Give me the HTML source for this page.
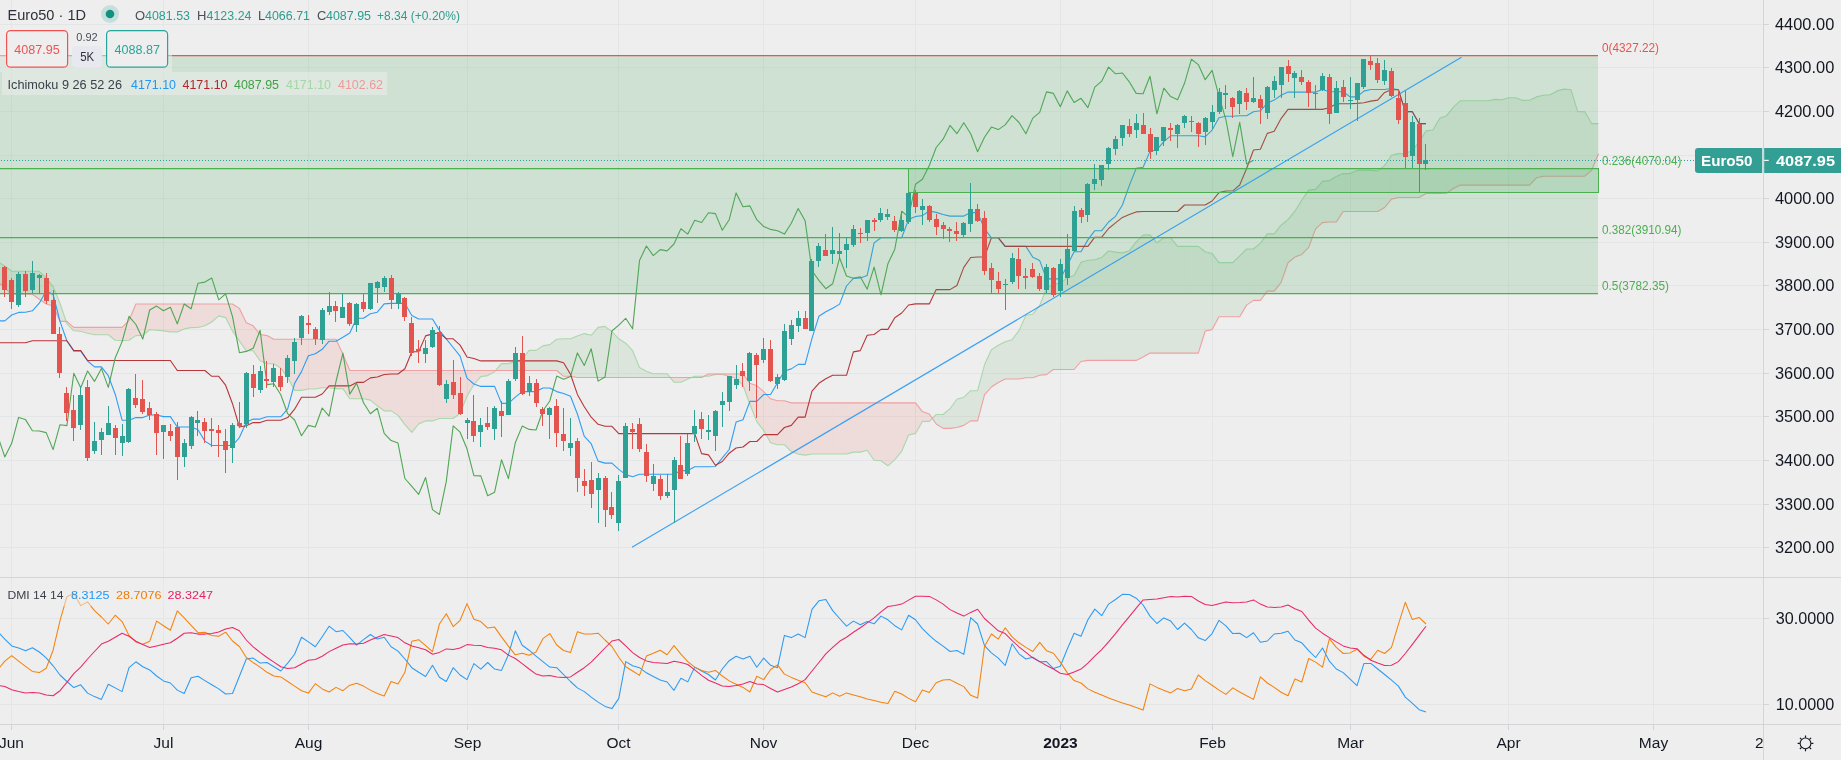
<!DOCTYPE html><html><head><meta charset="utf-8"><title>Euro50</title><style>html,body{margin:0;padding:0;background:#eeeeee;overflow:hidden}</style></head><body><svg width="1841" height="760" viewBox="0 0 1841 760" style="will-change:transform;display:block;font-family:'Liberation Sans',sans-serif">
<rect width="1841" height="760" fill="#eeeeee"/>
<path d="M11.5,0V724.5 M163.5,0V724.5 M308.5,0V724.5 M467.5,0V724.5 M618.5,0V724.5 M763.5,0V724.5 M915.5,0V724.5 M1060.5,0V724.5 M1212.5,0V724.5 M1350.5,0V724.5 M1508.5,0V724.5 M1653.5,0V724.5 M0,547.5H1763.5 M0,504.5H1763.5 M0,460.5H1763.5 M0,416.5H1763.5 M0,373.5H1763.5 M0,329.5H1763.5 M0,285.5H1763.5 M0,242.5H1763.5 M0,198.5H1763.5 M0,155.5H1763.5 M0,111.5H1763.5 M0,67.5H1763.5 M0,24.5H1763.5 M0,704.5H1763.5 M0,618.5H1763.5" stroke="#e4e5e6" stroke-width="1" fill="none" shape-rendering="crispEdges"/>
<clipPath id="mp"><rect x="0" y="0" width="1763.5" height="577.5"/></clipPath>
<clipPath id="dp"><rect x="0" y="577.5" width="1763.5" height="147.0"/></clipPath>
<g clip-path="url(#mp)">
<polygon points="-2.1,262.0 4.8,266.0 4.8,288.0 -2.1,282.0" fill="#43a047" fill-opacity="0.1"/>
<polygon points="4.8,266.0 11.7,271.3 11.7,294.2 4.8,288.0" fill="#43a047" fill-opacity="0.1"/>
<polygon points="11.7,271.3 18.6,271.3 18.6,294.2 11.7,294.2" fill="#43a047" fill-opacity="0.1"/>
<polygon points="18.6,271.3 25.5,271.3 25.5,294.2 18.6,294.2" fill="#43a047" fill-opacity="0.1"/>
<polygon points="25.5,271.3 32.4,271.3 32.4,294.2 25.5,294.2" fill="#43a047" fill-opacity="0.1"/>
<polygon points="32.4,271.3 39.3,271.3 39.3,299.2 32.4,294.2" fill="#43a047" fill-opacity="0.1"/>
<polygon points="39.3,271.3 46.2,277.9 46.2,304.0 39.3,299.2" fill="#43a047" fill-opacity="0.1"/>
<polygon points="46.2,277.9 53.1,286.6 53.1,306.0 46.2,304.0" fill="#43a047" fill-opacity="0.1"/>
<polygon points="53.1,286.6 60.0,303.2 60.0,321.4 53.1,306.0" fill="#43a047" fill-opacity="0.1"/>
<polygon points="60.0,303.2 66.1,321.4 60.0,321.4" fill="#43a047" fill-opacity="0.1"/>
<polygon points="66.1,321.4 66.9,323.7 66.9,321.4" fill="#f44336" fill-opacity="0.1"/>
<polygon points="66.9,323.7 73.8,330.8 73.8,327.4 66.9,321.4" fill="#f44336" fill-opacity="0.1"/>
<polygon points="73.8,330.8 80.7,331.2 80.7,327.4 73.8,327.4" fill="#f44336" fill-opacity="0.1"/>
<polygon points="80.7,331.2 87.6,333.2 87.6,327.4 80.7,327.4" fill="#f44336" fill-opacity="0.1"/>
<polygon points="87.6,333.2 94.5,334.8 94.5,327.4 87.6,327.4" fill="#f44336" fill-opacity="0.1"/>
<polygon points="94.5,334.8 101.4,334.8 101.4,327.4 94.5,327.4" fill="#f44336" fill-opacity="0.1"/>
<polygon points="101.4,334.8 108.3,334.8 108.3,327.4 101.4,327.4" fill="#f44336" fill-opacity="0.1"/>
<polygon points="108.3,334.8 115.2,340.3 115.2,327.4 108.3,327.4" fill="#f44336" fill-opacity="0.1"/>
<polygon points="115.2,340.3 122.1,340.6 122.1,327.4 115.2,327.4" fill="#f44336" fill-opacity="0.1"/>
<polygon points="122.1,340.6 129.0,340.3 129.0,320.6 122.1,327.4" fill="#f44336" fill-opacity="0.1"/>
<polygon points="129.0,340.3 135.9,335.6 135.9,304.0 129.0,320.6" fill="#f44336" fill-opacity="0.1"/>
<polygon points="135.9,335.6 142.8,335.3 142.8,304.0 135.9,304.0" fill="#f44336" fill-opacity="0.1"/>
<polygon points="142.8,335.3 149.7,329.8 149.7,304.0 142.8,304.0" fill="#f44336" fill-opacity="0.1"/>
<polygon points="149.7,329.8 156.6,330.2 156.6,304.0 149.7,304.0" fill="#f44336" fill-opacity="0.1"/>
<polygon points="156.6,330.2 163.5,330.9 163.5,304.0 156.6,304.0" fill="#f44336" fill-opacity="0.1"/>
<polygon points="163.5,330.9 170.4,331.9 170.4,304.0 163.5,304.0" fill="#f44336" fill-opacity="0.1"/>
<polygon points="170.4,331.9 177.3,331.9 177.3,304.0 170.4,304.0" fill="#f44336" fill-opacity="0.1"/>
<polygon points="177.3,331.9 184.2,328.9 184.2,304.0 177.3,304.0" fill="#f44336" fill-opacity="0.1"/>
<polygon points="184.2,328.9 191.1,327.6 191.1,304.0 184.2,304.0" fill="#f44336" fill-opacity="0.1"/>
<polygon points="191.1,327.6 198.0,327.5 198.0,304.0 191.1,304.0" fill="#f44336" fill-opacity="0.1"/>
<polygon points="198.0,327.5 204.9,325.8 204.9,304.0 198.0,304.0" fill="#f44336" fill-opacity="0.1"/>
<polygon points="204.9,325.8 211.8,322.0 211.8,304.0 204.9,304.0" fill="#f44336" fill-opacity="0.1"/>
<polygon points="211.8,322.0 218.7,315.9 218.7,304.0 211.8,304.0" fill="#f44336" fill-opacity="0.1"/>
<polygon points="218.7,315.9 225.6,317.6 225.6,304.0 218.7,304.0" fill="#f44336" fill-opacity="0.1"/>
<polygon points="225.6,317.6 232.5,331.1 232.5,304.0 225.6,304.0" fill="#f44336" fill-opacity="0.1"/>
<polygon points="232.5,331.1 239.4,340.9 239.4,308.4 232.5,304.0" fill="#f44336" fill-opacity="0.1"/>
<polygon points="239.4,340.9 246.3,350.8 246.3,322.7 239.4,308.4" fill="#f44336" fill-opacity="0.1"/>
<polygon points="246.3,350.8 253.2,350.8 253.2,325.8 246.3,322.7" fill="#f44336" fill-opacity="0.1"/>
<polygon points="253.2,350.8 260.1,360.8 260.1,334.5 253.2,325.8" fill="#f44336" fill-opacity="0.1"/>
<polygon points="260.1,360.8 267.0,363.7 267.0,335.6 260.1,334.5" fill="#f44336" fill-opacity="0.1"/>
<polygon points="267.0,363.7 273.9,363.7 273.9,339.2 267.0,335.6" fill="#f44336" fill-opacity="0.1"/>
<polygon points="273.9,363.7 280.8,368.1 280.8,339.2 273.9,339.2" fill="#f44336" fill-opacity="0.1"/>
<polygon points="280.8,368.1 287.7,377.3 287.7,339.2 280.8,339.2" fill="#f44336" fill-opacity="0.1"/>
<polygon points="287.7,377.3 294.6,390.4 294.6,339.2 287.7,339.2" fill="#f44336" fill-opacity="0.1"/>
<polygon points="294.6,390.4 301.5,390.4 301.5,339.2 294.6,339.2" fill="#f44336" fill-opacity="0.1"/>
<polygon points="301.5,390.4 308.4,389.0 308.4,339.2 301.5,339.2" fill="#f44336" fill-opacity="0.1"/>
<polygon points="308.4,389.0 315.3,389.0 315.3,339.2 308.4,339.2" fill="#f44336" fill-opacity="0.1"/>
<polygon points="315.3,389.0 322.2,387.8 322.2,339.2 315.3,339.2" fill="#f44336" fill-opacity="0.1"/>
<polygon points="322.2,387.8 329.1,387.8 329.1,339.2 322.2,339.2" fill="#f44336" fill-opacity="0.1"/>
<polygon points="329.1,387.8 336.0,388.6 336.0,339.2 329.1,339.2" fill="#f44336" fill-opacity="0.1"/>
<polygon points="336.0,388.6 342.9,388.6 342.9,354.3 336.0,339.2" fill="#f44336" fill-opacity="0.1"/>
<polygon points="342.9,388.6 349.8,398.8 349.8,370.5 342.9,354.3" fill="#f44336" fill-opacity="0.1"/>
<polygon points="349.8,398.8 356.6,398.8 356.6,370.5 349.8,370.5" fill="#f44336" fill-opacity="0.1"/>
<polygon points="356.6,398.8 363.5,398.8 363.5,370.5 356.6,370.5" fill="#f44336" fill-opacity="0.1"/>
<polygon points="363.5,398.8 370.4,400.1 370.4,370.5 363.5,370.5" fill="#f44336" fill-opacity="0.1"/>
<polygon points="370.4,400.1 377.3,405.8 377.3,370.5 370.4,370.5" fill="#f44336" fill-opacity="0.1"/>
<polygon points="377.3,405.8 384.2,410.9 384.2,370.5 377.3,370.5" fill="#f44336" fill-opacity="0.1"/>
<polygon points="384.2,410.9 391.1,410.9 391.1,370.5 384.2,370.5" fill="#f44336" fill-opacity="0.1"/>
<polygon points="391.1,410.9 398.0,415.4 398.0,370.5 391.1,370.5" fill="#f44336" fill-opacity="0.1"/>
<polygon points="398.0,415.4 404.9,424.6 404.9,370.5 398.0,370.5" fill="#f44336" fill-opacity="0.1"/>
<polygon points="404.9,424.6 411.8,432.3 411.8,370.5 404.9,370.5" fill="#f44336" fill-opacity="0.1"/>
<polygon points="411.8,432.3 418.7,424.0 418.7,370.5 411.8,370.5" fill="#f44336" fill-opacity="0.1"/>
<polygon points="418.7,424.0 425.6,420.9 425.6,370.5 418.7,370.5" fill="#f44336" fill-opacity="0.1"/>
<polygon points="425.6,420.9 432.5,420.9 432.5,370.5 425.6,370.5" fill="#f44336" fill-opacity="0.1"/>
<polygon points="432.5,420.9 439.4,418.5 439.4,370.5 432.5,370.5" fill="#f44336" fill-opacity="0.1"/>
<polygon points="439.4,418.5 446.3,418.5 446.3,370.5 439.4,370.5" fill="#f44336" fill-opacity="0.1"/>
<polygon points="446.3,418.5 453.2,418.5 453.2,370.5 446.3,370.5" fill="#f44336" fill-opacity="0.1"/>
<polygon points="453.2,418.5 460.1,413.2 460.1,370.5 453.2,370.5" fill="#f44336" fill-opacity="0.1"/>
<polygon points="460.1,413.2 467.0,396.3 467.0,370.5 460.1,370.5" fill="#f44336" fill-opacity="0.1"/>
<polygon points="467.0,396.3 473.9,384.5 473.9,370.5 467.0,370.5" fill="#f44336" fill-opacity="0.1"/>
<polygon points="473.9,384.5 480.8,376.6 480.8,370.5 473.9,370.5" fill="#f44336" fill-opacity="0.1"/>
<polygon points="480.8,376.6 487.7,375.6 487.7,370.5 480.8,370.5" fill="#f44336" fill-opacity="0.1"/>
<polygon points="487.7,375.6 494.6,371.7 494.6,370.5 487.7,370.5" fill="#f44336" fill-opacity="0.1"/>
<polygon points="494.6,371.7 495.6,370.5 494.6,370.5" fill="#f44336" fill-opacity="0.1"/>
<polygon points="495.6,370.5 501.5,363.6 501.5,370.5" fill="#43a047" fill-opacity="0.1"/>
<polygon points="501.5,363.6 508.4,363.6 508.4,370.5 501.5,370.5" fill="#43a047" fill-opacity="0.1"/>
<polygon points="508.4,363.6 515.3,361.6 515.3,370.5 508.4,370.5" fill="#43a047" fill-opacity="0.1"/>
<polygon points="515.3,361.6 522.2,359.5 522.2,370.5 515.3,370.5" fill="#43a047" fill-opacity="0.1"/>
<polygon points="522.2,359.5 529.1,350.4 529.1,370.5 522.2,370.5" fill="#43a047" fill-opacity="0.1"/>
<polygon points="529.1,350.4 536.0,350.4 536.0,370.5 529.1,370.5" fill="#43a047" fill-opacity="0.1"/>
<polygon points="536.0,350.4 542.9,345.9 542.9,370.5 536.0,370.5" fill="#43a047" fill-opacity="0.1"/>
<polygon points="542.9,345.9 549.8,344.6 549.8,370.5 542.9,370.5" fill="#43a047" fill-opacity="0.1"/>
<polygon points="549.8,344.6 556.7,339.2 556.7,370.5 549.8,370.5" fill="#43a047" fill-opacity="0.1"/>
<polygon points="556.7,339.2 563.6,338.7 563.6,376.3 556.7,370.5" fill="#43a047" fill-opacity="0.1"/>
<polygon points="563.6,338.7 570.5,338.7 570.5,376.3 563.6,376.3" fill="#43a047" fill-opacity="0.1"/>
<polygon points="570.5,338.7 577.4,336.1 577.4,377.5 570.5,376.3" fill="#43a047" fill-opacity="0.1"/>
<polygon points="577.4,336.1 584.3,333.6 584.3,377.5 577.4,377.5" fill="#43a047" fill-opacity="0.1"/>
<polygon points="584.3,333.6 591.2,335.3 591.2,377.5 584.3,377.5" fill="#43a047" fill-opacity="0.1"/>
<polygon points="591.2,335.3 598.1,327.4 598.1,377.5 591.2,377.5" fill="#43a047" fill-opacity="0.1"/>
<polygon points="598.1,327.4 605.0,326.4 605.0,377.5 598.1,377.5" fill="#43a047" fill-opacity="0.1"/>
<polygon points="605.0,326.4 611.9,331.6 611.9,377.5 605.0,377.5" fill="#43a047" fill-opacity="0.1"/>
<polygon points="611.9,331.6 618.8,338.8 618.8,377.5 611.9,377.5" fill="#43a047" fill-opacity="0.1"/>
<polygon points="618.8,338.8 625.7,343.2 625.7,377.5 618.8,377.5" fill="#43a047" fill-opacity="0.1"/>
<polygon points="625.7,343.2 632.6,350.7 632.6,377.5 625.7,377.5" fill="#43a047" fill-opacity="0.1"/>
<polygon points="632.6,350.7 639.5,367.5 639.5,377.5 632.6,377.5" fill="#43a047" fill-opacity="0.1"/>
<polygon points="639.5,367.5 646.4,371.3 646.4,377.5 639.5,377.5" fill="#43a047" fill-opacity="0.1"/>
<polygon points="646.4,371.3 653.3,373.7 653.3,377.5 646.4,377.5" fill="#43a047" fill-opacity="0.1"/>
<polygon points="653.3,373.7 660.2,373.7 660.2,377.5 653.3,377.5" fill="#43a047" fill-opacity="0.1"/>
<polygon points="660.2,373.7 667.1,373.7 667.1,377.5 660.2,377.5" fill="#43a047" fill-opacity="0.1"/>
<polygon points="667.1,373.7 670.2,377.5 667.1,377.5" fill="#43a047" fill-opacity="0.1"/>
<polygon points="670.2,377.5 674.0,382.2 674.0,377.5" fill="#f44336" fill-opacity="0.1"/>
<polygon points="674.0,382.2 680.9,382.2 680.9,377.5 674.0,377.5" fill="#f44336" fill-opacity="0.1"/>
<polygon points="680.9,382.2 687.8,379.0 687.8,377.5 680.9,377.5" fill="#f44336" fill-opacity="0.1"/>
<polygon points="687.8,379.0 691.7,377.5 687.8,377.5" fill="#f44336" fill-opacity="0.1"/>
<polygon points="691.7,377.5 694.7,376.3 694.7,377.5" fill="#43a047" fill-opacity="0.1"/>
<polygon points="694.7,376.3 701.6,376.3 701.6,377.5 694.7,377.5" fill="#43a047" fill-opacity="0.1"/>
<polygon points="701.6,376.3 704.0,376.3 701.6,377.5" fill="#43a047" fill-opacity="0.1"/>
<polygon points="704.0,376.3 708.5,376.3 708.5,374.0" fill="#f44336" fill-opacity="0.1"/>
<polygon points="708.5,376.3 715.4,374.4 715.4,374.0 708.5,374.0" fill="#f44336" fill-opacity="0.1"/>
<polygon points="715.4,374.4 722.3,374.4 722.3,374.0 715.4,374.0" fill="#f44336" fill-opacity="0.1"/>
<polygon points="722.3,374.4 729.2,376.3 729.2,374.0 722.3,374.0" fill="#f44336" fill-opacity="0.1"/>
<polygon points="729.2,376.3 736.1,378.2 736.1,374.0 729.2,374.0" fill="#f44336" fill-opacity="0.1"/>
<polygon points="736.1,378.2 743.0,385.3 743.0,374.0 736.1,374.0" fill="#f44336" fill-opacity="0.1"/>
<polygon points="743.0,385.3 749.9,404.2 749.9,383.3 743.0,374.0" fill="#f44336" fill-opacity="0.1"/>
<polygon points="749.9,404.2 756.8,421.6 756.8,385.7 749.9,383.3" fill="#f44336" fill-opacity="0.1"/>
<polygon points="756.8,421.6 763.7,430.4 763.7,391.7 756.8,385.7" fill="#f44336" fill-opacity="0.1"/>
<polygon points="763.7,430.4 770.6,442.7 770.6,398.8 763.7,391.7" fill="#f44336" fill-opacity="0.1"/>
<polygon points="770.6,442.7 777.5,444.7 777.5,400.8 770.6,398.8" fill="#f44336" fill-opacity="0.1"/>
<polygon points="777.5,444.7 784.4,444.7 784.4,400.8 777.5,400.8" fill="#f44336" fill-opacity="0.1"/>
<polygon points="784.4,444.7 791.3,451.5 791.3,402.9 784.4,400.8" fill="#f44336" fill-opacity="0.1"/>
<polygon points="791.3,451.5 798.2,454.1 798.2,402.9 791.3,402.9" fill="#f44336" fill-opacity="0.1"/>
<polygon points="798.2,454.1 805.1,455.1 805.1,402.9 798.2,402.9" fill="#f44336" fill-opacity="0.1"/>
<polygon points="805.1,455.1 812.0,454.0 812.0,402.9 805.1,402.9" fill="#f44336" fill-opacity="0.1"/>
<polygon points="812.0,454.0 818.9,454.0 818.9,402.9 812.0,402.9" fill="#f44336" fill-opacity="0.1"/>
<polygon points="818.9,454.0 825.8,454.0 825.8,402.9 818.9,402.9" fill="#f44336" fill-opacity="0.1"/>
<polygon points="825.8,454.0 832.7,454.0 832.7,402.9 825.8,402.9" fill="#f44336" fill-opacity="0.1"/>
<polygon points="832.7,454.0 839.6,454.0 839.6,402.9 832.7,402.9" fill="#f44336" fill-opacity="0.1"/>
<polygon points="839.6,454.0 846.5,454.0 846.5,402.9 839.6,402.9" fill="#f44336" fill-opacity="0.1"/>
<polygon points="846.5,454.0 853.4,452.1 853.4,402.9 846.5,402.9" fill="#f44336" fill-opacity="0.1"/>
<polygon points="853.4,452.1 860.3,452.1 860.3,402.9 853.4,402.9" fill="#f44336" fill-opacity="0.1"/>
<polygon points="860.3,452.1 867.2,450.2 867.2,402.9 860.3,402.9" fill="#f44336" fill-opacity="0.1"/>
<polygon points="867.2,450.2 874.1,460.2 874.1,402.9 867.2,402.9" fill="#f44336" fill-opacity="0.1"/>
<polygon points="874.1,460.2 881.0,460.8 881.0,402.9 874.1,402.9" fill="#f44336" fill-opacity="0.1"/>
<polygon points="881.0,460.8 887.9,465.8 887.9,402.9 881.0,402.9" fill="#f44336" fill-opacity="0.1"/>
<polygon points="887.9,465.8 894.8,459.6 894.8,402.9 887.9,402.9" fill="#f44336" fill-opacity="0.1"/>
<polygon points="894.8,459.6 901.7,451.3 901.7,402.9 894.8,402.9" fill="#f44336" fill-opacity="0.1"/>
<polygon points="901.7,451.3 908.6,435.0 908.6,402.9 901.7,402.9" fill="#f44336" fill-opacity="0.1"/>
<polygon points="908.6,435.0 915.5,433.4 915.5,402.9 908.6,402.9" fill="#f44336" fill-opacity="0.1"/>
<polygon points="915.5,433.4 922.4,421.4 922.4,411.6 915.5,402.9" fill="#f44336" fill-opacity="0.1"/>
<polygon points="922.4,421.4 929.3,421.4 929.3,414.0 922.4,411.6" fill="#f44336" fill-opacity="0.1"/>
<polygon points="929.3,421.4 932.3,418.4 929.3,414.0" fill="#f44336" fill-opacity="0.1"/>
<polygon points="932.3,418.4 936.2,414.5 936.2,424.0" fill="#43a047" fill-opacity="0.1"/>
<polygon points="936.2,414.5 943.1,414.5 943.1,428.4 936.2,424.0" fill="#43a047" fill-opacity="0.1"/>
<polygon points="943.1,414.5 950.0,408.7 950.0,428.4 943.1,428.4" fill="#43a047" fill-opacity="0.1"/>
<polygon points="950.0,408.7 956.9,399.2 956.9,427.5 950.0,428.4" fill="#43a047" fill-opacity="0.1"/>
<polygon points="956.9,399.2 963.8,397.2 963.8,425.4 956.9,427.5" fill="#43a047" fill-opacity="0.1"/>
<polygon points="963.8,397.2 970.7,390.7 970.7,420.9 963.8,425.4" fill="#43a047" fill-opacity="0.1"/>
<polygon points="970.7,390.7 977.6,390.7 977.6,420.9 970.7,420.9" fill="#43a047" fill-opacity="0.1"/>
<polygon points="977.6,390.7 984.5,364.8 984.5,394.9 977.6,420.9" fill="#43a047" fill-opacity="0.1"/>
<polygon points="984.5,364.8 991.4,349.8 991.4,387.0 984.5,394.9" fill="#43a047" fill-opacity="0.1"/>
<polygon points="991.4,349.8 998.3,345.2 998.3,382.5 991.4,387.0" fill="#43a047" fill-opacity="0.1"/>
<polygon points="998.3,345.2 1005.2,341.8 1005.2,379.0 998.3,382.5" fill="#43a047" fill-opacity="0.1"/>
<polygon points="1005.2,341.8 1012.1,339.7 1012.1,379.0 1005.2,379.0" fill="#43a047" fill-opacity="0.1"/>
<polygon points="1012.1,339.7 1019.0,330.6 1019.0,379.0 1012.1,379.0" fill="#43a047" fill-opacity="0.1"/>
<polygon points="1019.0,330.6 1025.9,315.2 1025.9,377.8 1019.0,379.0" fill="#43a047" fill-opacity="0.1"/>
<polygon points="1025.9,315.2 1032.8,314.2 1032.8,377.8 1025.9,377.8" fill="#43a047" fill-opacity="0.1"/>
<polygon points="1032.8,314.2 1039.7,305.3 1039.7,375.3 1032.8,377.8" fill="#43a047" fill-opacity="0.1"/>
<polygon points="1039.7,305.3 1046.5,288.7 1046.5,374.6 1039.7,375.3" fill="#43a047" fill-opacity="0.1"/>
<polygon points="1046.5,288.7 1053.4,283.6 1053.4,369.5 1046.5,374.6" fill="#43a047" fill-opacity="0.1"/>
<polygon points="1053.4,283.6 1060.3,283.6 1060.3,369.5 1053.4,369.5" fill="#43a047" fill-opacity="0.1"/>
<polygon points="1060.3,283.6 1067.2,277.7 1067.2,369.5 1060.3,369.5" fill="#43a047" fill-opacity="0.1"/>
<polygon points="1067.2,277.7 1074.1,275.4 1074.1,369.5 1067.2,369.5" fill="#43a047" fill-opacity="0.1"/>
<polygon points="1074.1,275.4 1081.0,262.2 1081.0,361.5 1074.1,369.5" fill="#43a047" fill-opacity="0.1"/>
<polygon points="1081.0,262.2 1087.9,260.2 1087.9,360.4 1081.0,361.5" fill="#43a047" fill-opacity="0.1"/>
<polygon points="1087.9,260.2 1094.8,259.7 1094.8,360.4 1087.9,360.4" fill="#43a047" fill-opacity="0.1"/>
<polygon points="1094.8,259.7 1101.7,257.4 1101.7,360.4 1094.8,360.4" fill="#43a047" fill-opacity="0.1"/>
<polygon points="1101.7,257.4 1108.6,251.0 1108.6,360.4 1101.7,360.4" fill="#43a047" fill-opacity="0.1"/>
<polygon points="1108.6,251.0 1115.5,252.1 1115.5,360.4 1108.6,360.4" fill="#43a047" fill-opacity="0.1"/>
<polygon points="1115.5,252.1 1122.4,252.9 1122.4,360.4 1115.5,360.4" fill="#43a047" fill-opacity="0.1"/>
<polygon points="1122.4,252.9 1129.3,250.8 1129.3,360.4 1122.4,360.4" fill="#43a047" fill-opacity="0.1"/>
<polygon points="1129.3,250.8 1136.2,241.8 1136.2,360.4 1129.3,360.4" fill="#43a047" fill-opacity="0.1"/>
<polygon points="1136.2,241.8 1143.1,235.1 1143.1,356.9 1136.2,360.4" fill="#43a047" fill-opacity="0.1"/>
<polygon points="1143.1,235.1 1150.0,234.8 1150.0,353.1 1143.1,356.9" fill="#43a047" fill-opacity="0.1"/>
<polygon points="1150.0,234.8 1156.9,242.8 1156.9,353.1 1150.0,353.1" fill="#43a047" fill-opacity="0.1"/>
<polygon points="1156.9,242.8 1163.8,237.8 1163.8,353.1 1156.9,353.1" fill="#43a047" fill-opacity="0.1"/>
<polygon points="1163.8,237.8 1170.7,237.8 1170.7,353.1 1163.8,353.1" fill="#43a047" fill-opacity="0.1"/>
<polygon points="1170.7,237.8 1177.6,246.4 1177.6,353.1 1170.7,353.1" fill="#43a047" fill-opacity="0.1"/>
<polygon points="1177.6,246.4 1184.5,246.4 1184.5,353.1 1177.6,353.1" fill="#43a047" fill-opacity="0.1"/>
<polygon points="1184.5,246.4 1191.4,246.4 1191.4,353.1 1184.5,353.1" fill="#43a047" fill-opacity="0.1"/>
<polygon points="1191.4,246.4 1198.3,246.4 1198.3,353.1 1191.4,353.1" fill="#43a047" fill-opacity="0.1"/>
<polygon points="1198.3,246.4 1205.2,251.8 1205.2,331.0 1198.3,353.1" fill="#43a047" fill-opacity="0.1"/>
<polygon points="1205.2,251.8 1212.1,253.5 1212.1,329.6 1205.2,331.0" fill="#43a047" fill-opacity="0.1"/>
<polygon points="1212.1,253.5 1219.0,262.6 1219.0,316.8 1212.1,329.6" fill="#43a047" fill-opacity="0.1"/>
<polygon points="1219.0,262.6 1225.9,262.6 1225.9,316.8 1219.0,316.8" fill="#43a047" fill-opacity="0.1"/>
<polygon points="1225.9,262.6 1232.8,262.6 1232.8,316.8 1225.9,316.8" fill="#43a047" fill-opacity="0.1"/>
<polygon points="1232.8,262.6 1239.7,255.9 1239.7,316.8 1232.8,316.8" fill="#43a047" fill-opacity="0.1"/>
<polygon points="1239.7,255.9 1246.6,249.0 1246.6,305.1 1239.7,316.8" fill="#43a047" fill-opacity="0.1"/>
<polygon points="1246.6,249.0 1253.5,249.0 1253.5,300.4 1246.6,305.1" fill="#43a047" fill-opacity="0.1"/>
<polygon points="1253.5,249.0 1260.4,243.2 1260.4,300.4 1253.5,300.4" fill="#43a047" fill-opacity="0.1"/>
<polygon points="1260.4,243.2 1267.3,233.9 1267.3,291.1 1260.4,300.4" fill="#43a047" fill-opacity="0.1"/>
<polygon points="1267.3,233.9 1274.2,233.9 1274.2,291.1 1267.3,291.1" fill="#43a047" fill-opacity="0.1"/>
<polygon points="1274.2,233.9 1281.1,225.2 1281.1,282.4 1274.2,291.1" fill="#43a047" fill-opacity="0.1"/>
<polygon points="1281.1,225.2 1288.0,219.6 1288.0,262.7 1281.1,282.4" fill="#43a047" fill-opacity="0.1"/>
<polygon points="1288.0,219.6 1294.9,211.2 1294.9,257.1 1288.0,262.7" fill="#43a047" fill-opacity="0.1"/>
<polygon points="1294.9,211.2 1301.8,200.1 1301.8,254.4 1294.9,257.1" fill="#43a047" fill-opacity="0.1"/>
<polygon points="1301.8,200.1 1308.7,190.1 1308.7,247.4 1301.8,254.4" fill="#43a047" fill-opacity="0.1"/>
<polygon points="1308.7,190.1 1315.6,189.4 1315.6,228.9 1308.7,247.4" fill="#43a047" fill-opacity="0.1"/>
<polygon points="1315.6,189.4 1322.5,181.4 1322.5,222.6 1315.6,228.9" fill="#43a047" fill-opacity="0.1"/>
<polygon points="1322.5,181.4 1329.4,180.6 1329.4,222.0 1322.5,222.6" fill="#43a047" fill-opacity="0.1"/>
<polygon points="1329.4,180.6 1336.3,176.6 1336.3,222.0 1329.4,222.0" fill="#43a047" fill-opacity="0.1"/>
<polygon points="1336.3,176.6 1343.2,173.6 1343.2,211.5 1336.3,222.0" fill="#43a047" fill-opacity="0.1"/>
<polygon points="1343.2,173.6 1350.1,173.6 1350.1,211.5 1343.2,211.5" fill="#43a047" fill-opacity="0.1"/>
<polygon points="1350.1,173.6 1357.0,170.4 1357.0,211.5 1350.1,211.5" fill="#43a047" fill-opacity="0.1"/>
<polygon points="1357.0,170.4 1363.9,170.4 1363.9,211.5 1357.0,211.5" fill="#43a047" fill-opacity="0.1"/>
<polygon points="1363.9,170.4 1370.8,170.4 1370.8,211.5 1363.9,211.5" fill="#43a047" fill-opacity="0.1"/>
<polygon points="1370.8,170.4 1377.7,170.9 1377.7,211.5 1370.8,211.5" fill="#43a047" fill-opacity="0.1"/>
<polygon points="1377.7,170.9 1384.6,165.6 1384.6,207.5 1377.7,211.5" fill="#43a047" fill-opacity="0.1"/>
<polygon points="1384.6,165.6 1391.5,155.2 1391.5,199.1 1384.6,207.5" fill="#43a047" fill-opacity="0.1"/>
<polygon points="1391.5,155.2 1398.4,153.6 1398.4,197.5 1391.5,199.1" fill="#43a047" fill-opacity="0.1"/>
<polygon points="1398.4,153.6 1405.3,153.5 1405.3,197.5 1398.4,197.5" fill="#43a047" fill-opacity="0.1"/>
<polygon points="1405.3,153.5 1412.2,150.4 1412.2,197.5 1405.3,197.5" fill="#43a047" fill-opacity="0.1"/>
<polygon points="1412.2,150.4 1419.1,142.2 1419.1,197.5 1412.2,197.5" fill="#43a047" fill-opacity="0.1"/>
<polygon points="1419.1,142.2 1426.0,130.9 1426.0,193.5 1419.1,197.5" fill="#43a047" fill-opacity="0.1"/>
<polygon points="1426.0,130.9 1432.9,130.0 1432.9,193.5 1426.0,193.5" fill="#43a047" fill-opacity="0.1"/>
<polygon points="1432.9,130.0 1439.8,118.2 1439.8,193.5 1432.9,193.5" fill="#43a047" fill-opacity="0.1"/>
<polygon points="1439.8,118.2 1446.7,115.7 1446.7,193.1 1439.8,193.5" fill="#43a047" fill-opacity="0.1"/>
<polygon points="1446.7,115.7 1453.6,106.9 1453.6,188.3 1446.7,193.1" fill="#43a047" fill-opacity="0.1"/>
<polygon points="1453.6,106.9 1460.5,100.7 1460.5,185.1 1453.6,188.3" fill="#43a047" fill-opacity="0.1"/>
<polygon points="1460.5,100.7 1467.4,100.7 1467.4,185.1 1460.5,185.1" fill="#43a047" fill-opacity="0.1"/>
<polygon points="1467.4,100.7 1474.3,100.7 1474.3,185.1 1467.4,185.1" fill="#43a047" fill-opacity="0.1"/>
<polygon points="1474.3,100.7 1481.2,100.7 1481.2,185.1 1474.3,185.1" fill="#43a047" fill-opacity="0.1"/>
<polygon points="1481.2,100.7 1488.1,100.7 1488.1,185.1 1481.2,185.1" fill="#43a047" fill-opacity="0.1"/>
<polygon points="1488.1,100.7 1495.0,99.4 1495.0,185.1 1488.1,185.1" fill="#43a047" fill-opacity="0.1"/>
<polygon points="1495.0,99.4 1501.9,99.8 1501.9,185.1 1495.0,185.1" fill="#43a047" fill-opacity="0.1"/>
<polygon points="1501.9,99.8 1508.8,97.8 1508.8,185.1 1501.9,185.1" fill="#43a047" fill-opacity="0.1"/>
<polygon points="1508.8,97.8 1515.7,97.8 1515.7,185.1 1508.8,185.1" fill="#43a047" fill-opacity="0.1"/>
<polygon points="1515.7,97.8 1522.6,100.4 1522.6,185.1 1515.7,185.1" fill="#43a047" fill-opacity="0.1"/>
<polygon points="1522.6,100.4 1529.5,100.2 1529.5,185.1 1522.6,185.1" fill="#43a047" fill-opacity="0.1"/>
<polygon points="1529.5,100.2 1536.4,96.9 1536.4,177.8 1529.5,185.1" fill="#43a047" fill-opacity="0.1"/>
<polygon points="1536.4,96.9 1543.3,95.3 1543.3,176.2 1536.4,177.8" fill="#43a047" fill-opacity="0.1"/>
<polygon points="1543.3,95.3 1550.2,94.8 1550.2,176.2 1543.3,176.2" fill="#43a047" fill-opacity="0.1"/>
<polygon points="1550.2,94.8 1557.1,90.9 1557.1,176.2 1550.2,176.2" fill="#43a047" fill-opacity="0.1"/>
<polygon points="1557.1,90.9 1564.0,89.1 1564.0,176.2 1557.1,176.2" fill="#43a047" fill-opacity="0.1"/>
<polygon points="1564.0,89.1 1570.9,89.7 1570.9,176.2 1564.0,176.2" fill="#43a047" fill-opacity="0.1"/>
<polygon points="1570.9,89.7 1577.8,111.6 1577.8,176.2 1570.9,176.2" fill="#43a047" fill-opacity="0.1"/>
<polygon points="1577.8,111.6 1584.7,111.6 1584.7,176.1 1577.8,176.2" fill="#43a047" fill-opacity="0.1"/>
<polygon points="1584.7,111.6 1591.6,123.6 1591.6,170.3 1584.7,176.1" fill="#43a047" fill-opacity="0.1"/>
<polygon points="1591.6,123.6 1598.5,123.6 1598.5,153.7 1591.6,170.3" fill="#43a047" fill-opacity="0.1"/>
<path d="M-2.1,262.0 L4.8,266.0 L11.7,271.3 L18.6,271.3 L25.5,271.3 L32.4,271.3 L39.3,271.3 L46.2,277.9 L53.1,286.6 L60.0,303.2 L66.9,323.7 L73.8,330.8 L80.7,331.2 L87.6,333.2 L94.5,334.8 L101.4,334.8 L108.3,334.8 L115.2,340.3 L122.1,340.6 L129.0,340.3 L135.9,335.6 L142.8,335.3 L149.7,329.8 L156.6,330.2 L163.5,330.9 L170.4,331.9 L177.3,331.9 L184.2,328.9 L191.1,327.6 L198.0,327.5 L204.9,325.8 L211.8,322.0 L218.7,315.9 L225.6,317.6 L232.5,331.1 L239.4,340.9 L246.3,350.8 L253.2,350.8 L260.1,360.8 L267.0,363.7 L273.9,363.7 L280.8,368.1 L287.7,377.3 L294.6,390.4 L301.5,390.4 L308.4,389.0 L315.3,389.0 L322.2,387.8 L329.1,387.8 L336.0,388.6 L342.9,388.6 L349.8,398.8 L356.6,398.8 L363.5,398.8 L370.4,400.1 L377.3,405.8 L384.2,410.9 L391.1,410.9 L398.0,415.4 L404.9,424.6 L411.8,432.3 L418.7,424.0 L425.6,420.9 L432.5,420.9 L439.4,418.5 L446.3,418.5 L453.2,418.5 L460.1,413.2 L467.0,396.3 L473.9,384.5 L480.8,376.6 L487.7,375.6 L494.6,371.7 L501.5,363.6 L508.4,363.6 L515.3,361.6 L522.2,359.5 L529.1,350.4 L536.0,350.4 L542.9,345.9 L549.8,344.6 L556.7,339.2 L563.6,338.7 L570.5,338.7 L577.4,336.1 L584.3,333.6 L591.2,335.3 L598.1,327.4 L605.0,326.4 L611.9,331.6 L618.8,338.8 L625.7,343.2 L632.6,350.7 L639.5,367.5 L646.4,371.3 L653.3,373.7 L660.2,373.7 L667.1,373.7 L674.0,382.2 L680.9,382.2 L687.8,379.0 L694.7,376.3 L701.6,376.3 L708.5,376.3 L715.4,374.4 L722.3,374.4 L729.2,376.3 L736.1,378.2 L743.0,385.3 L749.9,404.2 L756.8,421.6 L763.7,430.4 L770.6,442.7 L777.5,444.7 L784.4,444.7 L791.3,451.5 L798.2,454.1 L805.1,455.1 L812.0,454.0 L818.9,454.0 L825.8,454.0 L832.7,454.0 L839.6,454.0 L846.5,454.0 L853.4,452.1 L860.3,452.1 L867.2,450.2 L874.1,460.2 L881.0,460.8 L887.9,465.8 L894.8,459.6 L901.7,451.3 L908.6,435.0 L915.5,433.4 L922.4,421.4 L929.3,421.4 L936.2,414.5 L943.1,414.5 L950.0,408.7 L956.9,399.2 L963.8,397.2 L970.7,390.7 L977.6,390.7 L984.5,364.8 L991.4,349.8 L998.3,345.2 L1005.2,341.8 L1012.1,339.7 L1019.0,330.6 L1025.9,315.2 L1032.8,314.2 L1039.7,305.3 L1046.5,288.7 L1053.4,283.6 L1060.3,283.6 L1067.2,277.7 L1074.1,275.4 L1081.0,262.2 L1087.9,260.2 L1094.8,259.7 L1101.7,257.4 L1108.6,251.0 L1115.5,252.1 L1122.4,252.9 L1129.3,250.8 L1136.2,241.8 L1143.1,235.1 L1150.0,234.8 L1156.9,242.8 L1163.8,237.8 L1170.7,237.8 L1177.6,246.4 L1184.5,246.4 L1191.4,246.4 L1198.3,246.4 L1205.2,251.8 L1212.1,253.5 L1219.0,262.6 L1225.9,262.6 L1232.8,262.6 L1239.7,255.9 L1246.6,249.0 L1253.5,249.0 L1260.4,243.2 L1267.3,233.9 L1274.2,233.9 L1281.1,225.2 L1288.0,219.6 L1294.9,211.2 L1301.8,200.1 L1308.7,190.1 L1315.6,189.4 L1322.5,181.4 L1329.4,180.6 L1336.3,176.6 L1343.2,173.6 L1350.1,173.6 L1357.0,170.4 L1363.9,170.4 L1370.8,170.4 L1377.7,170.9 L1384.6,165.6 L1391.5,155.2 L1398.4,153.6 L1405.3,153.5 L1412.2,150.4 L1419.1,142.2 L1426.0,130.9 L1432.9,130.0 L1439.8,118.2 L1446.7,115.7 L1453.6,106.9 L1460.5,100.7 L1467.4,100.7 L1474.3,100.7 L1481.2,100.7 L1488.1,100.7 L1495.0,99.4 L1501.9,99.8 L1508.8,97.8 L1515.7,97.8 L1522.6,100.4 L1529.5,100.2 L1536.4,96.9 L1543.3,95.3 L1550.2,94.8 L1557.1,90.9 L1564.0,89.1 L1570.9,89.7 L1577.8,111.6 L1584.7,111.6 L1591.6,123.6 L1598.5,123.6" fill="none" stroke="#a5d6a7" stroke-width="1.1" stroke-opacity="0.92" stroke-linejoin="round"/>
<path d="M-2.1,282.0 L4.8,288.0 L11.7,294.2 L18.6,294.2 L25.5,294.2 L32.4,294.2 L39.3,299.2 L46.2,304.0 L53.1,306.0 L60.0,321.4 L66.9,321.4 L73.8,327.4 L80.7,327.4 L87.6,327.4 L94.5,327.4 L101.4,327.4 L108.3,327.4 L115.2,327.4 L122.1,327.4 L129.0,320.6 L135.9,304.0 L142.8,304.0 L149.7,304.0 L156.6,304.0 L163.5,304.0 L170.4,304.0 L177.3,304.0 L184.2,304.0 L191.1,304.0 L198.0,304.0 L204.9,304.0 L211.8,304.0 L218.7,304.0 L225.6,304.0 L232.5,304.0 L239.4,308.4 L246.3,322.7 L253.2,325.8 L260.1,334.5 L267.0,335.6 L273.9,339.2 L280.8,339.2 L287.7,339.2 L294.6,339.2 L301.5,339.2 L308.4,339.2 L315.3,339.2 L322.2,339.2 L329.1,339.2 L336.0,339.2 L342.9,354.3 L349.8,370.5 L356.6,370.5 L363.5,370.5 L370.4,370.5 L377.3,370.5 L384.2,370.5 L391.1,370.5 L398.0,370.5 L404.9,370.5 L411.8,370.5 L418.7,370.5 L425.6,370.5 L432.5,370.5 L439.4,370.5 L446.3,370.5 L453.2,370.5 L460.1,370.5 L467.0,370.5 L473.9,370.5 L480.8,370.5 L487.7,370.5 L494.6,370.5 L501.5,370.5 L508.4,370.5 L515.3,370.5 L522.2,370.5 L529.1,370.5 L536.0,370.5 L542.9,370.5 L549.8,370.5 L556.7,370.5 L563.6,376.3 L570.5,376.3 L577.4,377.5 L584.3,377.5 L591.2,377.5 L598.1,377.5 L605.0,377.5 L611.9,377.5 L618.8,377.5 L625.7,377.5 L632.6,377.5 L639.5,377.5 L646.4,377.5 L653.3,377.5 L660.2,377.5 L667.1,377.5 L674.0,377.5 L680.9,377.5 L687.8,377.5 L694.7,377.5 L701.6,377.5 L708.5,374.0 L715.4,374.0 L722.3,374.0 L729.2,374.0 L736.1,374.0 L743.0,374.0 L749.9,383.3 L756.8,385.7 L763.7,391.7 L770.6,398.8 L777.5,400.8 L784.4,400.8 L791.3,402.9 L798.2,402.9 L805.1,402.9 L812.0,402.9 L818.9,402.9 L825.8,402.9 L832.7,402.9 L839.6,402.9 L846.5,402.9 L853.4,402.9 L860.3,402.9 L867.2,402.9 L874.1,402.9 L881.0,402.9 L887.9,402.9 L894.8,402.9 L901.7,402.9 L908.6,402.9 L915.5,402.9 L922.4,411.6 L929.3,414.0 L936.2,424.0 L943.1,428.4 L950.0,428.4 L956.9,427.5 L963.8,425.4 L970.7,420.9 L977.6,420.9 L984.5,394.9 L991.4,387.0 L998.3,382.5 L1005.2,379.0 L1012.1,379.0 L1019.0,379.0 L1025.9,377.8 L1032.8,377.8 L1039.7,375.3 L1046.5,374.6 L1053.4,369.5 L1060.3,369.5 L1067.2,369.5 L1074.1,369.5 L1081.0,361.5 L1087.9,360.4 L1094.8,360.4 L1101.7,360.4 L1108.6,360.4 L1115.5,360.4 L1122.4,360.4 L1129.3,360.4 L1136.2,360.4 L1143.1,356.9 L1150.0,353.1 L1156.9,353.1 L1163.8,353.1 L1170.7,353.1 L1177.6,353.1 L1184.5,353.1 L1191.4,353.1 L1198.3,353.1 L1205.2,331.0 L1212.1,329.6 L1219.0,316.8 L1225.9,316.8 L1232.8,316.8 L1239.7,316.8 L1246.6,305.1 L1253.5,300.4 L1260.4,300.4 L1267.3,291.1 L1274.2,291.1 L1281.1,282.4 L1288.0,262.7 L1294.9,257.1 L1301.8,254.4 L1308.7,247.4 L1315.6,228.9 L1322.5,222.6 L1329.4,222.0 L1336.3,222.0 L1343.2,211.5 L1350.1,211.5 L1357.0,211.5 L1363.9,211.5 L1370.8,211.5 L1377.7,211.5 L1384.6,207.5 L1391.5,199.1 L1398.4,197.5 L1405.3,197.5 L1412.2,197.5 L1419.1,197.5 L1426.0,193.5 L1432.9,193.5 L1439.8,193.5 L1446.7,193.1 L1453.6,188.3 L1460.5,185.1 L1467.4,185.1 L1474.3,185.1 L1481.2,185.1 L1488.1,185.1 L1495.0,185.1 L1501.9,185.1 L1508.8,185.1 L1515.7,185.1 L1522.6,185.1 L1529.5,185.1 L1536.4,177.8 L1543.3,176.2 L1550.2,176.2 L1557.1,176.2 L1564.0,176.2 L1570.9,176.2 L1577.8,176.2 L1584.7,176.1 L1591.6,170.3 L1598.5,153.7" fill="none" stroke="#ef9a9a" stroke-width="1.1" stroke-opacity="0.92" stroke-linejoin="round"/>
<path d="M-2.1,320.9 L4.8,320.9 L11.7,315.0 L18.6,312.4 L25.5,312.2 L32.4,310.8 L39.3,303.2 L46.2,291.0 L53.1,294.5 L60.0,321.4 L66.9,341.0 L73.8,351.1 L80.7,351.1 L87.6,361.0 L94.5,366.9 L101.4,366.9 L108.3,375.7 L115.2,394.2 L122.1,420.2 L129.0,420.2 L135.9,417.6 L142.8,417.6 L149.7,415.0 L156.6,415.0 L163.5,416.6 L170.4,416.6 L177.3,427.0 L184.2,427.0 L191.1,427.0 L198.0,429.7 L204.9,441.1 L211.8,445.5 L218.7,445.5 L225.6,445.5 L232.5,445.5 L239.4,437.6 L246.3,422.3 L253.2,419.1 L260.1,419.1 L267.0,416.8 L273.9,416.8 L280.8,416.8 L287.7,408.9 L294.6,383.4 L301.5,371.6 L308.4,355.8 L315.3,353.8 L322.2,349.3 L329.1,341.2 L336.0,341.2 L342.9,337.3 L349.8,333.0 L356.6,318.3 L363.5,318.3 L370.4,313.8 L377.3,312.2 L384.2,303.9 L391.1,303.4 L398.0,303.4 L404.9,303.4 L411.8,315.4 L418.7,319.0 L425.6,319.0 L432.5,319.0 L439.4,330.4 L446.3,338.8 L453.2,347.5 L460.1,356.2 L467.0,378.1 L473.9,384.0 L480.8,386.4 L487.7,386.4 L494.6,386.4 L501.5,403.4 L508.4,403.4 L515.3,397.1 L522.2,391.6 L529.1,391.6 L536.0,391.6 L542.9,388.0 L549.8,388.0 L556.7,391.6 L563.6,393.5 L570.5,396.3 L577.4,414.0 L584.3,436.4 L591.2,443.7 L598.1,461.1 L605.0,463.1 L611.9,463.1 L618.8,469.4 L625.7,474.6 L632.6,476.7 L639.5,474.3 L646.4,474.3 L653.3,474.3 L660.2,474.3 L667.1,474.3 L674.0,474.3 L680.9,470.6 L687.8,470.6 L694.7,466.7 L701.6,466.7 L708.5,466.7 L715.4,466.5 L722.3,457.8 L729.2,449.5 L736.1,422.1 L743.0,419.8 L749.9,401.4 L756.8,401.4 L763.7,394.5 L770.6,394.5 L777.5,382.8 L784.4,371.0 L791.3,368.9 L798.2,364.4 L805.1,364.4 L812.0,338.4 L818.9,316.3 L825.8,311.7 L832.7,308.3 L839.6,304.1 L846.5,286.0 L853.4,278.4 L860.3,277.9 L867.2,275.4 L874.1,242.9 L881.0,237.8 L887.9,237.8 L894.8,237.8 L901.7,237.8 L908.6,219.4 L915.5,216.5 L922.4,215.6 L929.3,211.0 L936.2,212.4 L943.1,214.5 L950.0,216.1 L956.9,216.1 L963.8,216.1 L970.7,212.6 L977.6,212.6 L984.5,228.7 L991.4,237.8 L998.3,237.8 L1005.2,246.4 L1012.1,246.4 L1019.0,246.4 L1025.9,246.4 L1032.8,257.2 L1039.7,260.6 L1046.5,278.9 L1053.4,278.9 L1060.3,278.9 L1067.2,265.5 L1074.1,251.7 L1081.0,251.7 L1087.9,239.9 L1094.8,230.7 L1101.7,230.7 L1108.6,222.0 L1115.5,216.3 L1122.4,205.0 L1129.3,185.6 L1136.2,168.4 L1143.1,167.3 L1150.0,151.4 L1156.9,149.7 L1163.8,141.7 L1170.7,135.8 L1177.6,135.8 L1184.5,135.8 L1191.4,135.8 L1198.3,135.8 L1205.2,136.9 L1212.1,130.1 L1219.0,117.8 L1225.9,116.3 L1232.8,116.3 L1239.7,115.8 L1246.6,115.8 L1253.5,111.8 L1260.4,110.8 L1267.3,103.1 L1274.2,100.1 L1281.1,95.3 L1288.0,92.1 L1294.9,92.1 L1301.8,92.1 L1308.7,92.1 L1315.6,92.1 L1322.5,89.4 L1329.4,91.8 L1336.3,91.8 L1343.2,91.8 L1350.1,96.9 L1357.0,96.9 L1363.9,91.1 L1370.8,89.5 L1377.7,89.5 L1384.6,89.5 L1391.5,88.5 L1398.4,89.7 L1405.3,111.6 L1412.2,111.6 L1419.1,123.6 L1426.0,123.6" fill="none" stroke="#2196f3" stroke-width="1.1" stroke-opacity="0.92" stroke-linejoin="round"/>
<path d="M-2.1,342.8 L4.8,342.8 L11.7,342.8 L18.6,342.8 L25.5,342.8 L32.4,340.8 L39.3,340.8 L46.2,340.8 L53.1,340.8 L60.0,340.8 L66.9,340.8 L73.8,350.5 L80.7,350.5 L87.6,360.5 L94.5,360.5 L101.4,360.5 L108.3,360.5 L115.2,360.5 L122.1,360.5 L129.0,360.5 L135.9,360.5 L142.8,360.5 L149.7,360.5 L156.6,360.5 L163.5,360.5 L170.4,360.5 L177.3,370.5 L184.2,370.5 L191.1,370.5 L198.0,370.5 L204.9,370.5 L211.8,376.3 L218.7,376.3 L225.6,385.2 L232.5,403.7 L239.4,427.0 L246.3,425.8 L253.2,422.6 L260.1,422.6 L267.0,420.2 L273.9,420.2 L280.8,420.2 L287.7,417.6 L294.6,409.2 L301.5,397.3 L308.4,397.3 L315.3,397.3 L322.2,394.0 L329.1,385.9 L336.0,385.9 L342.9,385.9 L349.8,385.9 L356.6,382.4 L363.5,382.4 L370.4,377.9 L377.3,377.0 L384.2,374.5 L391.1,374.0 L398.0,374.0 L404.9,368.8 L411.8,351.7 L418.7,351.7 L425.6,335.9 L432.5,333.9 L439.4,332.8 L446.3,338.8 L453.2,338.8 L460.1,345.1 L467.0,357.0 L473.9,358.5 L480.8,360.9 L487.7,360.9 L494.6,360.9 L501.5,360.9 L508.4,360.9 L515.3,360.9 L522.2,360.9 L529.1,360.9 L536.0,360.9 L542.9,360.9 L549.8,360.9 L556.7,360.9 L563.6,362.8 L570.5,374.3 L577.4,394.4 L584.3,406.8 L591.2,417.2 L598.1,424.3 L605.0,426.3 L611.9,426.3 L618.8,433.6 L625.7,433.6 L632.6,433.6 L639.5,433.6 L646.4,433.6 L653.3,433.6 L660.2,433.6 L667.1,433.6 L674.0,433.6 L680.9,433.6 L687.8,433.6 L694.7,433.6 L701.6,453.6 L708.5,454.9 L715.4,465.2 L722.3,461.5 L729.2,453.2 L736.1,448.0 L743.0,447.0 L749.9,441.5 L756.8,441.5 L763.7,434.6 L770.6,434.6 L777.5,434.6 L784.4,427.5 L791.3,425.4 L798.2,417.1 L805.1,417.1 L812.0,391.2 L818.9,383.3 L825.8,378.7 L832.7,375.3 L839.6,375.3 L846.5,375.3 L853.4,351.9 L860.3,350.6 L867.2,335.2 L874.1,334.5 L881.0,329.4 L887.9,329.4 L894.8,317.7 L901.7,313.0 L908.6,305.0 L915.5,303.9 L922.4,303.9 L929.3,303.9 L936.2,289.6 L943.1,289.6 L950.0,289.6 L956.9,285.5 L963.8,267.4 L970.7,257.5 L977.6,257.0 L984.5,257.0 L991.4,237.8 L998.3,237.8 L1005.2,246.4 L1012.1,246.4 L1019.0,246.4 L1025.9,246.4 L1032.8,246.4 L1039.7,246.4 L1046.5,246.4 L1053.4,246.4 L1060.3,246.4 L1067.2,246.4 L1074.1,246.4 L1081.0,246.4 L1087.9,246.4 L1094.8,237.2 L1101.7,237.2 L1108.6,228.5 L1115.5,222.9 L1122.4,217.4 L1129.3,214.6 L1136.2,211.9 L1143.1,211.5 L1150.0,211.5 L1156.9,211.5 L1163.8,211.5 L1170.7,211.5 L1177.6,211.5 L1184.5,205.0 L1191.4,205.0 L1198.3,205.0 L1205.2,205.0 L1212.1,201.0 L1219.0,192.6 L1225.9,191.0 L1232.8,190.8 L1239.7,185.0 L1246.6,168.5 L1253.5,150.0 L1260.4,149.3 L1267.3,133.4 L1274.2,131.3 L1281.1,118.6 L1288.0,109.4 L1294.9,109.4 L1301.8,109.4 L1308.7,109.4 L1315.6,109.4 L1322.5,109.4 L1329.4,107.7 L1336.3,103.8 L1343.2,103.8 L1350.1,103.8 L1357.0,103.4 L1363.9,102.7 L1370.8,101.1 L1377.7,100.1 L1384.6,92.4 L1391.5,89.7 L1398.4,89.7 L1405.3,111.6 L1412.2,111.6 L1419.1,123.6 L1426.0,123.6" fill="none" stroke="#b2262b" stroke-width="1.1" stroke-opacity="0.92" stroke-linejoin="round"/>
<path d="M-2.1,436.4 L4.8,456.9 L11.7,443.3 L18.6,417.4 L25.5,419.6 L32.4,430.7 L39.3,431.0 L46.2,432.6 L53.1,449.6 L60.0,424.7 L66.9,425.6 L73.8,373.2 L80.7,387.7 L87.6,371.0 L94.5,381.4 L101.4,368.4 L108.3,387.4 L115.2,358.0 L122.1,341.6 L129.0,316.3 L135.9,324.5 L142.8,339.1 L149.7,310.0 L156.6,306.1 L163.5,310.8 L170.4,307.2 L177.3,323.9 L184.2,304.0 L191.1,308.8 L198.0,283.2 L204.9,282.1 L211.8,278.1 L218.7,299.8 L225.6,293.9 L232.5,316.7 L239.4,352.7 L246.3,351.4 L253.2,348.3 L260.1,330.3 L267.0,384.6 L273.9,383.7 L280.8,394.8 L287.7,413.7 L294.6,420.0 L301.5,435.8 L308.4,425.4 L315.3,427.0 L322.2,408.0 L329.1,416.2 L336.0,381.5 L342.9,353.1 L349.8,394.1 L356.6,383.1 L363.5,402.7 L370.4,413.7 L377.3,408.3 L384.2,433.3 L391.1,440.6 L398.0,443.1 L404.9,478.5 L411.8,486.4 L418.7,494.3 L425.6,477.5 L432.5,509.6 L439.4,514.5 L446.3,481.4 L453.2,425.9 L460.1,432.2 L467.0,448.8 L473.9,475.6 L480.8,475.9 L487.7,495.7 L494.6,492.2 L501.5,459.8 L508.4,478.6 L515.3,442.7 L522.2,426.1 L529.1,429.4 L536.0,430.0 L542.9,410.7 L549.8,401.0 L556.7,376.1 L563.6,379.2 L570.5,376.4 L577.4,352.9 L584.3,365.4 L591.2,348.8 L598.1,381.1 L605.0,377.0 L611.9,331.0 L618.8,325.2 L625.7,318.3 L632.6,328.8 L639.5,260.6 L646.4,246.0 L653.3,255.6 L660.2,249.6 L667.1,250.9 L674.0,244.0 L680.9,228.8 L687.8,234.1 L694.7,220.3 L701.6,222.5 L708.5,212.8 L715.4,213.6 L722.3,230.2 L729.2,219.7 L736.1,192.9 L743.0,206.7 L749.9,205.9 L756.8,219.7 L763.7,226.6 L770.6,229.4 L777.5,230.8 L784.4,234.1 L791.3,223.3 L798.2,208.6 L805.1,220.7 L812.0,270.7 L818.9,280.4 L825.8,288.7 L832.7,283.7 L839.6,258.0 L846.5,276.0 L853.4,278.2 L860.3,276.8 L867.2,289.2 L874.1,267.1 L881.0,294.8 L887.9,263.8 L894.8,249.2 L901.7,211.3 L908.6,216.9 L915.5,184.3 L922.4,179.3 L929.3,165.5 L936.2,147.5 L943.1,139.2 L950.0,125.4 L956.9,133.7 L963.8,122.7 L970.7,133.7 L977.6,151.7 L984.5,137.3 L991.4,127.1 L998.3,129.6 L1005.2,124.9 L1012.1,115.7 L1019.0,122.5 L1025.9,133.8 L1032.8,118.1 L1039.7,112.4 L1046.5,91.9 L1053.4,93.4 L1060.3,106.7 L1067.2,90.9 L1074.1,102.5 L1081.0,98.3 L1087.9,107.7 L1094.8,87.1 L1101.7,81.2 L1108.6,67.1 L1115.5,73.8 L1122.4,73.0 L1129.3,81.8 L1136.2,93.4 L1143.1,93.8 L1150.0,76.2 L1156.9,113.8 L1163.8,88.2 L1170.7,96.6 L1177.6,99.7 L1184.5,83.3 L1191.4,59.3 L1198.3,64.6 L1205.2,79.7 L1212.1,70.3 L1219.0,96.2 L1225.9,119.7 L1232.8,156.6 L1239.7,122.3 L1246.6,163.9 L1253.5,160.2" fill="none" stroke="#43a047" stroke-width="1.1" stroke-opacity="0.92" stroke-linejoin="round"/>
<rect x="0" y="55.5" width="1598" height="238.0" fill="#50b068" fill-opacity="0.2"/>
<rect x="908.5" y="168.5" width="690.0" height="24.0" fill="#50b068" fill-opacity="0.2" stroke="#4caf50" stroke-width="1"/>
<path d="M0,55.5H1598" stroke="#e8554d" stroke-width="1.25"/>
<path d="M0,168.5H1598" stroke="#4caf50" stroke-width="1.25"/>
<path d="M0,237.5H1598" stroke="#4caf50" stroke-width="1.25"/>
<path d="M0,293.5H1598" stroke="#4caf50" stroke-width="1.25"/>
<path d="M632,547.3L1461.5,57.2" stroke="#2196f3" stroke-width="1.1" stroke-opacity="0.88" fill="none"/>
<path d="M18,272h1V307h-1zM16,274h5V305h-5zM32,261h1V293h-1zM30,273h5V290h-5zM39,274h1V294h-1zM37,275h5V278h-5zM80,386h1V430h-1zM78,395h5V425h-5zM94,422h1V454h-1zM92,441h5V451h-5zM101,428h1V455h-1zM99,432h5V440h-5zM108,406h1V435h-1zM106,423h5V435h-5zM122,424h1V456h-1zM120,436h5V443h-5zM128,388h1V443h-1zM126,389h5V442h-5zM163,425h1V459h-1zM161,425h5V432h-5zM184,439h1V467h-1zM182,443h5V457h-5zM191,416h1V449h-1zM189,417h5V446h-5zM197,411h1V436h-1zM195,420h5V423h-5zM232,423h1V463h-1zM230,425h5V448h-5zM246,372h1V428h-1zM244,373h5V424h-5zM260,366h1V393h-1zM258,371h5V390h-5zM273,364h1V387h-1zM271,368h5V382h-5zM287,355h1V383h-1zM285,358h5V377h-5zM294,338h1V374h-1zM292,342h5V361h-5zM301,315h1V345h-1zM299,316h5V338h-5zM322,308h1V344h-1zM320,310h5V340h-5zM329,292h1V315h-1zM327,306h5V312h-5zM342,293h1V318h-1zM340,307h5V318h-5zM356,303h1V332h-1zM354,304h5V325h-5zM370,283h1V310h-1zM368,283h5V309h-5zM377,281h1V303h-1zM375,282h5V288h-5zM384,276h1V292h-1zM382,278h5V287h-5zM398,292h1V309h-1zM396,294h5V304h-5zM425,340h1V363h-1zM423,348h5V354h-5zM432,327h1V348h-1zM430,330h5V347h-5zM446,380h1V403h-1zM444,384h5V399h-5zM467,418h1V439h-1zM465,420h5V423h-5zM480,418h1V447h-1zM478,425h5V432h-5zM494,406h1V440h-1zM492,408h5V429h-5zM508,379h1V415h-1zM506,381h5V415h-5zM515,347h1V381h-1zM513,353h5V379h-5zM529,376h1V396h-1zM527,383h5V392h-5zM549,407h1V439h-1zM547,408h5V415h-5zM570,418h1V456h-1zM568,443h5V448h-5zM598,473h1V523h-1zM596,478h5V490h-5zM618,475h1V531h-1zM616,481h5V523h-5zM625,423h1V478h-1zM623,426h5V478h-5zM653,464h1V491h-1zM651,476h5V484h-5zM667,474h1V498h-1zM665,492h5V496h-5zM674,457h1V523h-1zM672,460h5V490h-5zM687,434h1V476h-1zM685,443h5V474h-5zM694,410h1V442h-1zM692,426h5V434h-5zM708,415h1V440h-1zM706,430h5V432h-5zM715,410h1V451h-1zM713,411h5V436h-5zM722,392h1V427h-1zM720,401h5V405h-5zM729,376h1V411h-1zM727,376h5V402h-5zM736,365h1V389h-1zM734,379h5V385h-5zM749,352h1V391h-1zM747,353h5V381h-5zM763,338h1V363h-1zM761,349h5V360h-5zM777,374h1V389h-1zM775,377h5V384h-5zM784,324h1V381h-1zM782,331h5V380h-5zM791,320h1V345h-1zM789,325h5V339h-5zM798,311h1V332h-1zM796,318h5V326h-5zM811,259h1V331h-1zM809,261h5V331h-5zM818,243h1V267h-1zM816,246h5V261h-5zM832,227h1V264h-1zM830,250h5V254h-5zM839,233h1V259h-1zM837,251h5V254h-5zM846,237h1V268h-1zM844,244h5V250h-5zM853,225h1V247h-1zM851,229h5V245h-5zM867,220h1V241h-1zM865,220h5V233h-5zM880,208h1V222h-1zM878,213h5V220h-5zM887,209h1V220h-1zM885,214h5V217h-5zM901,211h1V232h-1zM899,220h5V231h-5zM908,192h1V224h-1zM906,193h5V222h-5zM922,199h1V225h-1zM920,206h5V210h-5zM963,222h1V237h-1zM961,223h5V235h-5zM970,183h1V232h-1zM968,209h5V224h-5zM1005,279h1V310h-1zM1003,284h5V285h-5zM1012,253h1V284h-1zM1010,258h5V282h-5zM1046,264h1V293h-1zM1044,267h5V290h-5zM1060,259h1V297h-1zM1058,264h5V291h-5zM1067,234h1V285h-1zM1065,249h5V278h-5zM1074,206h1V252h-1zM1072,211h5V251h-5zM1087,183h1V222h-1zM1085,184h5V215h-5zM1094,164h1V190h-1zM1092,179h5V184h-5zM1101,165h1V186h-1zM1099,165h5V180h-5zM1108,147h1V170h-1zM1106,148h5V164h-5zM1115,136h1V155h-1zM1113,139h5V149h-5zM1122,125h1V146h-1zM1120,125h5V138h-5zM1136,114h1V138h-1zM1134,123h5V130h-5zM1156,137h1V155h-1zM1154,137h5V151h-5zM1163,127h1V146h-1zM1161,127h5V141h-5zM1177,124h1V148h-1zM1175,125h5V134h-5zM1184,115h1V128h-1zM1182,116h5V123h-5zM1205,117h1V145h-1zM1203,118h5V132h-5zM1212,105h1V129h-1zM1210,112h5V122h-5zM1219,88h1V114h-1zM1217,92h5V112h-5zM1225,85h1V109h-1zM1223,93h5V95h-5zM1239,90h1V114h-1zM1237,91h5V104h-5zM1253,77h1V103h-1zM1251,98h5V102h-5zM1267,86h1V119h-1zM1265,87h5V113h-5zM1274,76h1V98h-1zM1272,81h5V90h-5zM1281,67h1V98h-1zM1279,67h5V85h-5zM1294,71h1V98h-1zM1292,73h5V78h-5zM1322,73h1V91h-1zM1320,76h5V90h-5zM1336,81h1V113h-1zM1334,88h5V113h-5zM1350,77h1V109h-1zM1348,100h5V101h-5zM1357,83h1V121h-1zM1355,83h5V100h-5zM1363,59h1V89h-1zM1361,59h5V87h-5zM1384,60h1V85h-1zM1382,70h5V81h-5zM1412,116h1V168h-1zM1410,122h5V156h-5zM1425,144h1V170h-1zM1423,160h5V164h-5z" fill="#2fa094" shape-rendering="crispEdges"/>
<path d="M4,266h1V297h-1zM2,267h5V290h-5zM11,278h1V309h-1zM9,280h5V302h-5zM25,271h1V297h-1zM23,274h5V291h-5zM46,273h1V304h-1zM44,278h5V301h-5zM53,290h1V334h-1zM51,300h5V334h-5zM59,327h1V378h-1zM57,334h5V373h-5zM66,387h1V421h-1zM64,393h5V413h-5zM73,395h1V441h-1zM71,410h5V428h-5zM87,380h1V461h-1zM85,387h5V458h-5zM115,425h1V455h-1zM113,428h5V438h-5zM135,374h1V408h-1zM133,398h5V405h-5zM142,380h1V414h-1zM140,399h5V412h-5zM149,402h1V420h-1zM147,408h5V415h-5zM156,412h1V455h-1zM154,414h5V433h-5zM170,424h1V441h-1zM168,431h5V436h-5zM177,422h1V480h-1zM175,427h5V457h-5zM204,418h1V443h-1zM202,422h5V431h-5zM211,418h1V447h-1zM209,429h5V431h-5zM218,425h1V457h-1zM216,430h5V433h-5zM225,429h1V473h-1zM223,441h5V450h-5zM239,402h1V428h-1zM237,423h5V426h-5zM253,365h1V397h-1zM251,374h5V388h-5zM266,361h1V388h-1zM264,379h5V381h-5zM280,368h1V391h-1zM278,376h5V387h-5zM308,315h1V334h-1zM306,323h5V325h-5zM315,327h1V345h-1zM313,329h5V339h-5zM335,301h1V322h-1zM333,306h5V311h-5zM349,302h1V326h-1zM347,303h5V324h-5zM363,294h1V312h-1zM361,302h5V309h-5zM391,275h1V309h-1zM389,278h5V300h-5zM404,297h1V321h-1zM402,298h5V317h-5zM411,317h1V356h-1zM409,323h5V353h-5zM418,340h1V363h-1zM416,349h5V351h-5zM439,326h1V386h-1zM437,332h5V385h-5zM453,360h1V399h-1zM451,382h5V395h-5zM460,377h1V415h-1zM458,393h5V414h-5zM473,395h1V442h-1zM471,421h5V436h-5zM487,407h1V430h-1zM485,423h5V427h-5zM501,401h1V437h-1zM499,411h5V416h-5zM522,336h1V395h-1zM520,353h5V394h-5zM536,379h1V407h-1zM534,383h5V403h-5zM542,407h1V426h-1zM540,409h5V414h-5zM556,399h1V447h-1zM554,406h5V433h-5zM563,408h1V451h-1zM561,434h5V441h-5zM577,438h1V492h-1zM575,441h5V478h-5zM584,469h1V496h-1zM582,481h5V486h-5zM591,462h1V508h-1zM589,480h5V494h-5zM605,476h1V527h-1zM603,478h5V510h-5zM611,492h1V519h-1zM609,507h5V515h-5zM632,423h1V449h-1zM630,429h5V432h-5zM639,418h1V452h-1zM637,424h5V449h-5zM646,444h1V482h-1zM644,452h5V476h-5zM660,475h1V500h-1zM658,479h5V496h-5zM680,436h1V479h-1zM678,465h5V479h-5zM701,412h1V439h-1zM699,419h5V429h-5zM742,363h1V387h-1zM740,371h5V376h-5zM756,353h1V418h-1zM754,355h5V365h-5zM770,340h1V382h-1zM768,349h5V381h-5zM805,311h1V329h-1zM803,318h5V329h-5zM825,234h1V256h-1zM823,250h5V256h-5zM860,228h1V243h-1zM858,233h5V234h-5zM874,218h1V231h-1zM872,220h5V222h-5zM894,216h1V232h-1zM892,221h5V230h-5zM915,190h1V213h-1zM913,193h5V207h-5zM929,205h1V222h-1zM927,206h5V220h-5zM936,214h1V235h-1zM934,219h5V227h-5zM943,222h1V239h-1zM941,225h5V229h-5zM949,227h1V242h-1zM947,229h5V231h-5zM956,222h1V241h-1zM954,231h5V234h-5zM977,204h1V222h-1zM975,209h5V221h-5zM984,211h1V275h-1zM982,218h5V271h-5zM991,263h1V293h-1zM989,268h5V280h-5zM998,272h1V293h-1zM996,281h5V289h-5zM1018,248h1V289h-1zM1016,259h5V276h-5zM1025,268h1V289h-1zM1023,276h5V278h-5zM1032,263h1V278h-1zM1030,269h5V277h-5zM1039,273h1V291h-1zM1037,276h5V289h-5zM1053,267h1V297h-1zM1051,268h5V295h-5zM1081,208h1V223h-1zM1079,210h5V217h-5zM1129,119h1V137h-1zM1127,126h5V134h-5zM1143,113h1V134h-1zM1141,125h5V134h-5zM1150,128h1V159h-1zM1148,134h5V152h-5zM1170,123h1V141h-1zM1168,128h5V130h-5zM1191,116h1V132h-1zM1189,121h5V122h-5zM1198,122h1V147h-1zM1196,123h5V134h-5zM1232,97h1V118h-1zM1230,98h5V107h-5zM1246,88h1V110h-1zM1244,93h5V102h-5zM1260,95h1V124h-1zM1258,99h5V108h-5zM1288,60h1V82h-1zM1286,66h5V74h-5zM1301,70h1V85h-1zM1299,77h5V82h-5zM1308,80h1V107h-1zM1306,82h5V93h-5zM1315,85h1V109h-1zM1313,93h5V94h-5zM1329,74h1V124h-1zM1327,77h5V114h-5zM1343,80h1V102h-1zM1341,87h5V97h-5zM1370,56h1V70h-1zM1368,61h5V65h-5zM1377,58h1V83h-1zM1375,63h5V80h-5zM1391,68h1V97h-1zM1389,71h5V96h-5zM1398,89h1V124h-1zM1396,98h5V120h-5zM1405,91h1V168h-1zM1403,103h5V157h-5zM1419,118h1V192h-1zM1417,124h5V164h-5z" fill="#e4544f" shape-rendering="crispEdges"/>
<path d="M1,160.5H1695" stroke="#2a9fa0" stroke-width="1" stroke-dasharray="1 2" shape-rendering="crispEdges"/>
</g>
<path d="M1600,160.5H1695" stroke="#2a9fa0" stroke-width="1" stroke-dasharray="1 2" shape-rendering="crispEdges"/>
<g clip-path="url(#dp)">
<path d="M-2.1,631.7 L4.8,639.1 L11.7,645.9 L18.6,648.0 L25.5,650.7 L32.4,647.8 L39.3,652.0 L46.2,657.9 L53.1,665.8 L60.0,675.0 L66.9,681.5 L73.8,687.6 L80.7,684.8 L87.6,693.1 L94.5,696.6 L101.4,699.4 L108.3,684.2 L115.2,687.9 L122.1,691.6 L129.0,667.7 L135.9,661.8 L142.8,666.7 L149.7,669.9 L156.6,676.0 L163.5,680.9 L170.4,683.0 L177.3,690.1 L184.2,693.5 L191.1,677.8 L198.0,676.3 L204.9,680.6 L211.8,684.8 L218.7,688.9 L225.6,694.0 L232.5,693.5 L239.4,676.3 L246.3,659.0 L253.2,658.1 L260.1,663.1 L267.0,662.5 L273.9,666.7 L280.8,671.0 L287.7,663.1 L294.6,654.2 L301.5,637.3 L308.4,641.9 L315.3,646.8 L322.2,636.7 L329.1,626.2 L336.0,631.7 L342.9,630.5 L349.8,637.6 L356.6,645.2 L363.5,639.7 L370.4,634.5 L377.3,639.1 L384.2,637.3 L391.1,646.8 L398.0,651.1 L404.9,659.0 L411.8,667.7 L418.7,672.3 L425.6,676.5 L432.5,665.3 L439.4,677.2 L446.3,681.5 L453.2,667.7 L460.1,675.0 L467.0,679.6 L473.9,663.6 L480.8,669.1 L487.7,662.5 L494.6,669.1 L501.5,670.4 L508.4,654.8 L515.3,630.8 L522.2,645.2 L529.1,650.2 L536.0,656.2 L542.9,661.6 L549.8,667.1 L556.7,667.7 L563.6,674.7 L570.5,681.5 L577.4,687.9 L584.3,691.6 L591.2,697.1 L598.1,702.1 L605.0,706.4 L611.9,708.6 L618.8,698.4 L625.7,661.6 L632.6,665.8 L639.5,667.7 L646.4,672.8 L653.3,676.5 L660.2,680.0 L667.1,682.0 L674.0,690.3 L680.9,678.2 L687.8,681.9 L694.7,667.1 L701.6,671.0 L708.5,674.5 L715.4,680.0 L722.3,669.0 L729.2,660.7 L736.1,656.2 L743.0,659.0 L749.9,656.2 L756.8,667.3 L763.7,658.1 L770.6,665.3 L777.5,667.7 L784.4,635.4 L791.3,637.6 L798.2,634.0 L805.1,637.6 L812.0,609.3 L818.9,600.8 L825.8,599.5 L832.7,610.6 L839.6,618.5 L846.5,626.2 L853.4,621.1 L860.3,624.7 L867.2,621.6 L874.1,623.8 L881.0,616.1 L887.9,619.8 L894.8,625.7 L901.7,629.9 L908.6,615.2 L915.5,619.8 L922.4,628.6 L929.3,635.4 L936.2,641.3 L943.1,646.1 L950.0,651.5 L956.9,650.5 L963.8,654.4 L970.7,617.6 L977.6,624.0 L984.5,645.6 L991.4,652.9 L998.3,658.1 L1005.2,665.5 L1012.1,643.7 L1019.0,653.8 L1025.9,659.0 L1032.8,657.2 L1039.7,661.8 L1046.5,661.6 L1053.4,668.6 L1060.3,666.2 L1067.2,649.2 L1074.1,633.2 L1081.0,636.3 L1087.9,619.8 L1094.8,609.1 L1101.7,615.7 L1108.6,604.1 L1115.5,599.5 L1122.4,594.3 L1129.3,594.5 L1136.2,598.2 L1143.1,605.0 L1150.0,616.1 L1156.9,623.5 L1163.8,617.9 L1170.7,621.1 L1177.6,629.5 L1184.5,623.1 L1191.4,629.5 L1198.3,637.8 L1205.2,640.6 L1212.1,633.6 L1219.0,620.3 L1225.9,625.8 L1232.8,633.6 L1239.7,633.2 L1246.6,637.6 L1253.5,632.7 L1260.4,642.2 L1267.3,641.0 L1274.2,634.0 L1281.1,633.2 L1288.0,631.2 L1294.9,640.0 L1301.8,642.8 L1308.7,650.7 L1315.6,657.5 L1322.5,648.0 L1329.4,661.2 L1336.3,669.0 L1343.2,672.6 L1350.1,679.1 L1357.0,685.7 L1363.9,663.6 L1370.8,663.4 L1377.7,669.0 L1384.6,674.5 L1391.5,680.2 L1398.4,686.1 L1405.3,697.1 L1412.2,703.2 L1419.1,709.7 L1426.0,711.9" fill="none" stroke="#2196f3" stroke-width="1.05" stroke-opacity="0.95" stroke-linejoin="round"/>
<path d="M-2.1,669.5 L4.8,661.2 L11.7,655.7 L18.6,661.2 L25.5,666.4 L32.4,671.4 L39.3,672.6 L46.2,668.2 L53.1,650.2 L60.0,620.7 L66.9,596.7 L73.8,593.4 L80.7,605.6 L87.6,601.9 L94.5,610.6 L101.4,617.0 L108.3,624.0 L115.2,615.2 L122.1,621.6 L129.0,635.4 L135.9,641.9 L142.8,644.3 L149.7,641.3 L156.6,621.1 L163.5,625.8 L170.4,630.3 L177.3,610.9 L184.2,617.9 L191.1,625.3 L198.0,632.7 L204.9,632.3 L211.8,635.4 L218.7,636.3 L225.6,632.1 L232.5,641.0 L239.4,646.5 L246.3,657.5 L253.2,662.7 L260.1,667.1 L267.0,672.3 L273.9,676.0 L280.8,676.9 L287.7,681.5 L294.6,686.1 L301.5,690.7 L308.4,693.1 L315.3,683.7 L322.2,688.9 L329.1,692.0 L336.0,687.4 L342.9,690.7 L349.8,685.2 L356.6,683.3 L363.5,686.1 L370.4,690.1 L377.3,693.5 L384.2,695.9 L391.1,681.5 L398.0,683.9 L404.9,672.3 L411.8,641.3 L418.7,639.7 L425.6,645.6 L432.5,651.6 L439.4,624.0 L446.3,613.7 L453.2,626.6 L460.1,620.3 L467.0,603.6 L473.9,619.2 L480.8,621.6 L487.7,628.1 L494.6,627.1 L501.5,636.9 L508.4,646.1 L515.3,654.8 L522.2,653.3 L529.1,655.3 L536.0,652.0 L542.9,638.7 L549.8,633.6 L556.7,645.0 L563.6,650.5 L570.5,652.6 L577.4,631.7 L584.3,634.0 L591.2,634.1 L598.1,633.2 L605.0,640.0 L611.9,646.5 L618.8,657.2 L625.7,666.7 L632.6,671.0 L639.5,675.4 L646.4,656.1 L653.3,653.3 L660.2,650.2 L667.1,654.8 L674.0,645.6 L680.9,654.2 L687.8,661.6 L694.7,667.1 L701.6,670.4 L708.5,672.3 L715.4,670.4 L722.3,676.0 L729.2,680.9 L736.1,684.2 L743.0,687.4 L749.9,692.0 L756.8,676.3 L763.7,679.6 L770.6,669.5 L777.5,664.9 L784.4,674.1 L791.3,677.4 L798.2,680.2 L805.1,682.8 L812.0,692.0 L818.9,694.4 L825.8,696.8 L832.7,692.9 L839.6,696.2 L846.5,692.9 L853.4,694.9 L860.3,696.8 L867.2,699.0 L874.1,700.5 L881.0,702.3 L887.9,703.6 L894.8,691.2 L901.7,694.0 L908.6,698.4 L915.5,701.7 L922.4,690.1 L929.3,692.5 L936.2,682.8 L943.1,680.0 L950.0,679.6 L956.9,683.3 L963.8,686.6 L970.7,695.3 L977.6,698.1 L984.5,646.5 L991.4,634.0 L998.3,639.1 L1005.2,627.7 L1012.1,636.9 L1019.0,642.8 L1025.9,647.4 L1032.8,651.5 L1039.7,642.4 L1046.5,650.7 L1053.4,653.3 L1060.3,662.1 L1067.2,672.6 L1074.1,680.6 L1081.0,683.0 L1087.9,688.9 L1094.8,692.2 L1101.7,694.9 L1108.6,698.1 L1115.5,700.5 L1122.4,703.0 L1129.3,705.1 L1136.2,707.6 L1143.1,710.0 L1150.0,683.9 L1156.9,687.4 L1163.8,690.3 L1170.7,692.9 L1177.6,688.5 L1184.5,690.7 L1191.4,688.9 L1198.3,675.0 L1205.2,680.6 L1212.1,685.2 L1219.0,690.1 L1225.9,694.4 L1232.8,687.9 L1239.7,692.0 L1246.6,695.7 L1253.5,699.4 L1260.4,676.9 L1267.3,683.0 L1274.2,687.4 L1281.1,692.2 L1288.0,695.7 L1294.9,679.1 L1301.8,682.0 L1308.7,658.5 L1315.6,662.1 L1322.5,667.1 L1329.4,638.7 L1336.3,647.4 L1343.2,653.5 L1350.1,652.9 L1357.0,649.2 L1363.9,656.2 L1370.8,659.4 L1377.7,650.2 L1384.6,653.5 L1391.5,647.4 L1398.4,624.4 L1405.3,602.3 L1412.2,619.4 L1419.1,617.4 L1426.0,624.0" fill="none" stroke="#f57c00" stroke-width="1.05" stroke-opacity="0.95" stroke-linejoin="round"/>
<path d="M-2.1,685.5 L4.8,686.6 L11.7,689.8 L18.6,691.6 L25.5,692.9 L32.4,692.5 L39.3,692.9 L46.2,694.9 L53.1,695.7 L60.0,690.7 L66.9,682.4 L73.8,673.6 L80.7,667.1 L87.6,659.0 L94.5,651.5 L101.4,644.1 L108.3,641.3 L115.2,637.3 L122.1,633.2 L129.0,636.3 L135.9,641.3 L142.8,644.6 L149.7,647.4 L156.6,645.9 L163.5,644.3 L170.4,642.8 L177.3,638.2 L184.2,633.2 L191.1,632.7 L198.0,634.1 L204.9,634.1 L211.8,633.6 L218.7,632.1 L225.6,629.0 L232.5,627.5 L239.4,630.8 L246.3,640.0 L253.2,646.8 L260.1,652.4 L267.0,657.5 L273.9,662.1 L280.8,666.7 L287.7,668.6 L294.6,667.7 L301.5,664.0 L308.4,660.3 L315.3,659.4 L322.2,656.2 L329.1,651.6 L336.0,648.3 L342.9,645.0 L349.8,643.7 L356.6,644.1 L363.5,643.2 L370.4,640.0 L377.3,637.3 L384.2,634.5 L391.1,636.0 L398.0,637.6 L404.9,642.8 L411.8,645.9 L418.7,647.8 L425.6,649.8 L432.5,654.2 L439.4,652.4 L446.3,648.9 L453.2,649.6 L460.1,648.0 L467.0,644.6 L473.9,645.2 L480.8,645.6 L487.7,647.4 L494.6,648.3 L501.5,649.8 L508.4,655.1 L515.3,658.5 L522.2,663.6 L529.1,669.0 L536.0,674.1 L542.9,676.0 L549.8,675.6 L556.7,676.9 L563.6,677.4 L570.5,676.9 L577.4,672.3 L584.3,667.7 L591.2,662.1 L598.1,655.1 L605.0,648.0 L611.9,641.0 L618.8,639.5 L625.7,645.9 L632.6,652.6 L639.5,657.5 L646.4,660.9 L653.3,662.5 L660.2,663.1 L667.1,663.6 L674.0,661.2 L680.9,662.5 L687.8,664.5 L694.7,669.9 L701.6,675.4 L708.5,680.2 L715.4,683.0 L722.3,686.1 L729.2,686.6 L736.1,685.5 L743.0,683.9 L749.9,681.5 L756.8,683.9 L763.7,684.6 L770.6,688.5 L777.5,692.0 L784.4,689.4 L791.3,687.0 L798.2,683.7 L805.1,679.6 L812.0,671.0 L818.9,662.5 L825.8,653.8 L832.7,647.4 L839.6,641.3 L846.5,637.3 L853.4,632.3 L860.3,627.7 L867.2,622.9 L874.1,617.9 L881.0,611.8 L887.9,606.5 L894.8,605.4 L901.7,604.1 L908.6,600.1 L915.5,596.2 L922.4,596.2 L929.3,596.4 L936.2,599.9 L943.1,604.1 L950.0,609.6 L956.9,613.0 L963.8,616.1 L970.7,612.4 L977.6,609.3 L984.5,618.5 L991.4,624.7 L998.3,630.8 L1005.2,633.6 L1012.1,640.6 L1019.0,646.8 L1025.9,652.4 L1032.8,657.9 L1039.7,661.6 L1046.5,665.5 L1053.4,669.0 L1060.3,673.2 L1067.2,674.5 L1074.1,671.9 L1081.0,669.1 L1087.9,663.1 L1094.8,656.2 L1101.7,649.6 L1108.6,641.9 L1115.5,633.6 L1122.4,624.9 L1129.3,616.6 L1136.2,608.2 L1143.1,599.9 L1150.0,599.5 L1156.9,599.1 L1163.8,597.7 L1170.7,596.4 L1177.6,597.1 L1184.5,596.2 L1191.4,596.4 L1198.3,601.0 L1205.2,604.5 L1212.1,605.6 L1219.0,603.7 L1225.9,601.9 L1232.8,602.8 L1239.7,602.6 L1246.6,601.9 L1253.5,599.9 L1260.4,604.1 L1267.3,606.9 L1274.2,607.4 L1281.1,606.9 L1288.0,605.0 L1294.9,608.7 L1301.8,611.5 L1308.7,620.1 L1315.6,628.1 L1322.5,633.2 L1329.4,637.6 L1336.3,641.9 L1343.2,645.9 L1350.1,648.0 L1357.0,648.7 L1363.9,655.3 L1370.8,660.3 L1377.7,663.1 L1384.6,665.5 L1391.5,665.3 L1398.4,661.6 L1405.3,653.5 L1412.2,644.6 L1419.1,635.4 L1426.0,626.2" fill="none" stroke="#e91e63" stroke-width="1.05" stroke-opacity="0.95" stroke-linejoin="round"/>
</g>
<path d="M0,577.5H1841M0,724.5H1841M1763.5,0V760" stroke="#d3d4d7" stroke-width="1" shape-rendering="crispEdges"/>
<path d="M11.5,724.5v5 M163.5,724.5v5 M308.5,724.5v5 M467.5,724.5v5 M618.5,724.5v5 M763.5,724.5v5 M915.5,724.5v5 M1060.5,724.5v5 M1212.5,724.5v5 M1350.5,724.5v5 M1508.5,724.5v5 M1653.5,724.5v5 M1763.5,547.5h5 M1763.5,504.5h5 M1763.5,460.5h5 M1763.5,416.5h5 M1763.5,373.5h5 M1763.5,329.5h5 M1763.5,285.5h5 M1763.5,242.5h5 M1763.5,198.5h5 M1763.5,155.5h5 M1763.5,111.5h5 M1763.5,67.5h5 M1763.5,24.5h5 M1763.5,704.5h5 M1763.5,618.5h5" stroke="#d3d4d7" stroke-width="1" shape-rendering="crispEdges"/>
<text x="1775" y="553.1" font-size="16.5" fill="#131722" textLength="59.3" lengthAdjust="spacingAndGlyphs">3200.00</text>
<text x="1775" y="510.1" font-size="16.5" fill="#131722" textLength="59.3" lengthAdjust="spacingAndGlyphs">3300.00</text>
<text x="1775" y="466.1" font-size="16.5" fill="#131722" textLength="59.3" lengthAdjust="spacingAndGlyphs">3400.00</text>
<text x="1775" y="422.1" font-size="16.5" fill="#131722" textLength="59.3" lengthAdjust="spacingAndGlyphs">3500.00</text>
<text x="1775" y="379.1" font-size="16.5" fill="#131722" textLength="59.3" lengthAdjust="spacingAndGlyphs">3600.00</text>
<text x="1775" y="335.1" font-size="16.5" fill="#131722" textLength="59.3" lengthAdjust="spacingAndGlyphs">3700.00</text>
<text x="1775" y="291.1" font-size="16.5" fill="#131722" textLength="59.3" lengthAdjust="spacingAndGlyphs">3800.00</text>
<text x="1775" y="248.1" font-size="16.5" fill="#131722" textLength="59.3" lengthAdjust="spacingAndGlyphs">3900.00</text>
<text x="1775" y="204.1" font-size="16.5" fill="#131722" textLength="59.3" lengthAdjust="spacingAndGlyphs">4000.00</text>
<text x="1775" y="161.1" font-size="16.5" fill="#131722" textLength="59.3" lengthAdjust="spacingAndGlyphs">4100.00</text>
<text x="1775" y="117.1" font-size="16.5" fill="#131722" textLength="59.3" lengthAdjust="spacingAndGlyphs">4200.00</text>
<text x="1775" y="73.1" font-size="16.5" fill="#131722" textLength="59.3" lengthAdjust="spacingAndGlyphs">4300.00</text>
<text x="1775" y="30.1" font-size="16.5" fill="#131722" textLength="59.3" lengthAdjust="spacingAndGlyphs">4400.00</text>
<text x="1775.8" y="709.7" font-size="16.5" fill="#131722" textLength="58.5" lengthAdjust="spacingAndGlyphs">10.0000</text>
<text x="1775.8" y="623.7" font-size="16.5" fill="#131722" textLength="58.5" lengthAdjust="spacingAndGlyphs">30.0000</text>
<text x="11.5" y="747.6" font-size="15.5" fill="#131722" text-anchor="middle">Jun</text>
<text x="163.5" y="747.6" font-size="15.5" fill="#131722" text-anchor="middle">Jul</text>
<text x="308.5" y="747.6" font-size="15.5" fill="#131722" text-anchor="middle">Aug</text>
<text x="467.5" y="747.6" font-size="15.5" fill="#131722" text-anchor="middle">Sep</text>
<text x="618.5" y="747.6" font-size="15.5" fill="#131722" text-anchor="middle">Oct</text>
<text x="763.5" y="747.6" font-size="15.5" fill="#131722" text-anchor="middle">Nov</text>
<text x="915.5" y="747.6" font-size="15.5" fill="#131722" text-anchor="middle">Dec</text>
<text x="1060.5" y="747.6" font-size="15.5" fill="#131722" text-anchor="middle" font-weight="bold">2023</text>
<text x="1212.5" y="747.6" font-size="15.5" fill="#131722" text-anchor="middle">Feb</text>
<text x="1350.5" y="747.6" font-size="15.5" fill="#131722" text-anchor="middle">Mar</text>
<text x="1508.5" y="747.6" font-size="15.5" fill="#131722" text-anchor="middle">Apr</text>
<text x="1653.5" y="747.6" font-size="15.5" fill="#131722" text-anchor="middle">May</text>
<clipPath id="tc"><rect x="0" y="724.5" width="1762.9" height="40"/></clipPath>
<text x="1755" y="747.6" font-size="15.5" fill="#131722" clip-path="url(#tc)">2023</text>
<circle cx="1805.5" cy="743.4" r="5.4" fill="none" stroke="#131722" stroke-width="1.1"/><path d="M1811.10,743.40L1813.40,743.40" stroke="#131722" stroke-width="1.2"/><path d="M1809.46,747.36L1811.09,748.99" stroke="#131722" stroke-width="1.2"/><path d="M1805.50,749.00L1805.50,751.30" stroke="#131722" stroke-width="1.2"/><path d="M1801.54,747.36L1799.91,748.99" stroke="#131722" stroke-width="1.2"/><path d="M1799.90,743.40L1797.60,743.40" stroke="#131722" stroke-width="1.2"/><path d="M1801.54,739.44L1799.91,737.81" stroke="#131722" stroke-width="1.2"/><path d="M1805.50,737.80L1805.50,735.50" stroke="#131722" stroke-width="1.2"/><path d="M1809.46,739.44L1811.09,737.81" stroke="#131722" stroke-width="1.2"/>
<text x="1602" y="52.1" font-size="12.5" fill="#e8554d" textLength="57" lengthAdjust="spacingAndGlyphs">0(4327.22)</text>
<text x="1602" y="165.1" font-size="12.5" fill="#4caf50" textLength="79.5" lengthAdjust="spacingAndGlyphs">0.236(4070.04)</text>
<text x="1602" y="234.1" font-size="12.5" fill="#4caf50" textLength="79.5" lengthAdjust="spacingAndGlyphs">0.382(3910.94)</text>
<text x="1602" y="290.1" font-size="12.5" fill="#4caf50" textLength="67" lengthAdjust="spacingAndGlyphs">0.5(3782.35)</text>
<path d="M1698,148h64.2v25h-64.2a3,3 0 0 1 -3,-3v-19a3,3 0 0 1 3,-3z" fill="#339f94"/>
<rect x="1764.2" y="148" width="80" height="25" fill="#339f94"/>
<path d="M1764.2,160.4h4.5" stroke="#fff" stroke-width="1.2"/>
<text x="1701" y="166" font-size="15" font-weight="bold" fill="#fff" textLength="51.5" lengthAdjust="spacingAndGlyphs">Euro50</text>
<text x="1776" y="166" font-size="15" font-weight="bold" fill="#fff" textLength="59" lengthAdjust="spacingAndGlyphs">4087.95</text>
<rect x="0" y="28" width="172" height="44" fill="#eeeeee" fill-opacity="0.5"/>
<rect x="2" y="72" width="385" height="23" fill="#eeeeee" fill-opacity="0.5"/>
<text x="7.5" y="20" font-size="15.5" fill="#2e313b" textLength="78.5" lengthAdjust="spacingAndGlyphs">Euro50 · 1D</text>
<circle cx="110" cy="14" r="9" fill="#26a69a" fill-opacity="0.2"/><circle cx="110" cy="14" r="4.3" fill="#13917f"/>
<text x="135" y="19.6" font-size="13" fill="#4a4e59">O</text>
<text x="145" y="19.6" font-size="13" fill="#2a9d8f" textLength="45" lengthAdjust="spacingAndGlyphs">4081.53</text>
<text x="197" y="19.6" font-size="13" fill="#4a4e59">H</text>
<text x="206.5" y="19.6" font-size="13" fill="#2a9d8f" textLength="45" lengthAdjust="spacingAndGlyphs">4123.24</text>
<text x="258" y="19.6" font-size="13" fill="#4a4e59">L</text>
<text x="265" y="19.6" font-size="13" fill="#2a9d8f" textLength="45" lengthAdjust="spacingAndGlyphs">4066.71</text>
<text x="317" y="19.6" font-size="13" fill="#4a4e59">C</text>
<text x="326" y="19.6" font-size="13" fill="#2a9d8f" textLength="45" lengthAdjust="spacingAndGlyphs">4087.95</text>
<text x="377" y="19.6" font-size="13" fill="#2a9d8f" textLength="83" lengthAdjust="spacingAndGlyphs">+8.34 (+0.20%)</text>
<rect x="6.6" y="30.6" width="61" height="36.6" rx="4" fill="#eeeeee" stroke="#ef5350" stroke-width="1.2"/>
<text x="37" y="54" font-size="13" fill="#ef5350" text-anchor="middle" textLength="45.5" lengthAdjust="spacingAndGlyphs">4087.95</text>
<rect x="106.6" y="30.6" width="61" height="36.6" rx="4" fill="#eeeeee" stroke="#26a69a" stroke-width="1.2"/>
<text x="137.2" y="54" font-size="13" fill="#26a69a" text-anchor="middle" textLength="45.5" lengthAdjust="spacingAndGlyphs">4088.87</text>
<text x="87" y="40.6" font-size="11" fill="#4a4e59" text-anchor="middle">0.92</text>
<rect x="72" y="46" width="30" height="21.5" rx="4" fill="#e8e9f0"/>
<text x="87.2" y="60.9" font-size="12.5" fill="#2e313b" text-anchor="middle" textLength="14" lengthAdjust="spacingAndGlyphs">5K</text>
<text x="7.5" y="88.8" font-size="12.5" fill="#3c404b" textLength="114.5" lengthAdjust="spacingAndGlyphs">Ichimoku 9 26 52 26</text>
<text x="131" y="88.8" font-size="12.5" fill="#2196f3" textLength="45" lengthAdjust="spacingAndGlyphs">4171.10</text>
<text x="182.5" y="88.8" font-size="12.5" fill="#b2262b" textLength="45" lengthAdjust="spacingAndGlyphs">4171.10</text>
<text x="234" y="88.8" font-size="12.5" fill="#43a047" textLength="45" lengthAdjust="spacingAndGlyphs">4087.95</text>
<text x="286" y="88.8" font-size="12.5" fill="#a5d6a7" textLength="45" lengthAdjust="spacingAndGlyphs">4171.10</text>
<text x="338" y="88.8" font-size="12.5" fill="#ef9a9a" textLength="45" lengthAdjust="spacingAndGlyphs">4102.62</text>
<rect x="2" y="584" width="215" height="22" fill="#eeeeee" fill-opacity="0.5"/>
<text x="7.5" y="598.6" font-size="11.5" fill="#3c404b" textLength="56" lengthAdjust="spacingAndGlyphs">DMI 14 14</text>
<text x="71" y="598.6" font-size="11.5" fill="#2196f3" textLength="38.5" lengthAdjust="spacingAndGlyphs">8.3125</text>
<text x="116" y="598.6" font-size="11.5" fill="#f57c00" textLength="45.5" lengthAdjust="spacingAndGlyphs">28.7076</text>
<text x="167.5" y="598.6" font-size="11.5" fill="#e91e63" textLength="45.5" lengthAdjust="spacingAndGlyphs">28.3247</text>
</svg></body></html>
